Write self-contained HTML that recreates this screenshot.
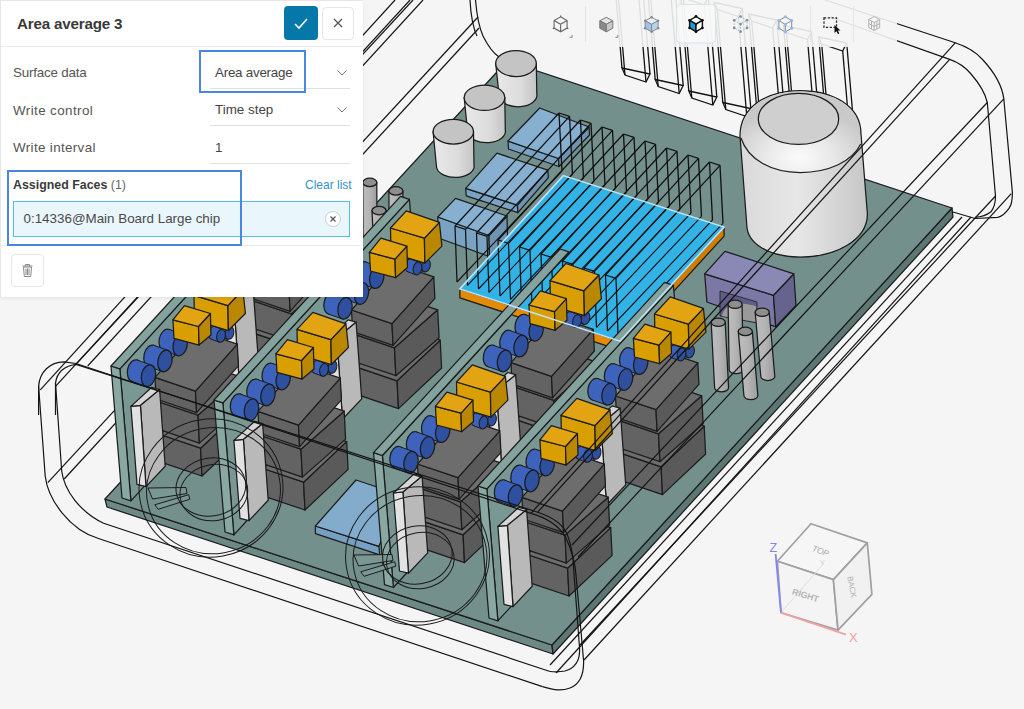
<!DOCTYPE html>
<html><head><meta charset="utf-8">
<style>
*{box-sizing:border-box;margin:0;padding:0}
html,body{width:1024px;height:709px;overflow:hidden;background:#f5f5f5;font-family:"Liberation Sans",sans-serif}
#scene{position:absolute;left:0;top:0;width:1024px;height:709px}
#panel{position:absolute;left:0;top:0;width:363px;height:296.5px;background:#fff;border-left:1px solid #e6e6e6;border-top:1px solid #e6e6e6;box-shadow:0 1.5px 3px rgba(0,0,0,0.07)}
.title{position:absolute;left:16px;top:13.5px;font-size:15.2px;font-weight:bold;color:#3a3a3a;letter-spacing:-0.2px}
.btn-ok{position:absolute;left:283px;top:5px;width:34px;height:34px;background:#0677a9;border-radius:4px}
.btn-x{position:absolute;left:321px;top:6px;width:32px;height:33px;background:#fff;border:1px solid #e6e6e6;border-radius:4px}
.hsep{position:absolute;left:0;top:45px;width:362px;height:1px;background:#ececec}
.lbl{position:absolute;left:12px;font-size:13.4px;color:#555}
.val{position:absolute;left:214px;font-size:13.4px;color:#444}
.uline{position:absolute;left:209px;width:140px;height:1px;background:#e0e0e0}
.chev{position:absolute;left:336px;width:10px;height:6px}
.hl{position:absolute;border:2px solid #4a86de}
.af{position:absolute;left:12px;top:177px;font-size:12.4px;font-weight:bold;color:#3a3a3a}
.af span{font-weight:normal;color:#666}
.clear{position:absolute;left:304px;top:177px;font-size:12px;color:#3591c8}
.item{position:absolute;left:12px;top:200px;width:337px;height:36px;background:#e9f6fc;border:1px solid #57bde3}
.item .t{position:absolute;left:9.5px;top:9px;font-size:13.4px;color:#4a4a4a}
.xc{position:absolute;left:324px;top:210px;width:16px;height:16px;border-radius:50%;background:#fff;border:1px solid #d0d0d0}
.bsep{position:absolute;left:0;top:244px;width:362px;height:1px;background:#ececec}
.trash{position:absolute;left:10px;top:253px;width:33px;height:33px;border:1px solid #e6e6e6;border-radius:4px;background:#fff}
#tb{position:absolute;left:538px;top:0;width:359px;height:47px;background:rgba(245,245,245,0.9)}
.ic{position:absolute;top:14px;width:20px;height:20px}

</style></head><body>
<svg id="scene" width="1024" height="709" viewBox="0 0 1024 709"><defs>
<linearGradient id="capg" x1="0" x2="1" y1="0" y2="0"><stop offset="0" stop-color="#e9e9e9"/><stop offset="0.6" stop-color="#dcdcdc"/><stop offset="1" stop-color="#c4c4c4"/></linearGradient>
<linearGradient id="bigcyl" x1="0" x2="1" y1="0" y2="0"><stop offset="0" stop-color="#d9d9d9"/><stop offset="0.45" stop-color="#e7e7e7"/><stop offset="1" stop-color="#c6c6c6"/></linearGradient>
<radialGradient id="dome" cx="0.48" cy="0.82" r="0.62"><stop offset="0" stop-color="#fbfbfb"/><stop offset="0.45" stop-color="#e9e9e9"/><stop offset="1" stop-color="#c9c9c9"/></radialGradient>
<linearGradient id="ping" x1="0" x2="1" y1="0" y2="0"><stop offset="0" stop-color="#bdbdbd"/><stop offset="0.5" stop-color="#b4b4b4"/><stop offset="1" stop-color="#9c9c9c"/></linearGradient>
</defs><path d="M38.6,386 L45.2,476 C48,500 70,530 98.5,538.5 L542.5,686.6" fill="none" stroke="#141414" stroke-width="1.2"/>
<path d="M55.5,383 L61.7,471 C64,490 80,512 103.6,523.3 L550,671.5" fill="none" stroke="#141414" stroke-width="1.2"/>
<path d="M550,665 L962,217" fill="none" stroke="#141414" stroke-width="1.2"/>
<path d="M556,673 L971,217" fill="none" stroke="#141414" stroke-width="1.2"/>
<path d="M580,645 L995.5,196" fill="none" stroke="#141414" stroke-width="1.2"/>
<path d="M584,660 L1011.3,193.7" fill="none" stroke="#141414" stroke-width="1.2"/>
<path d="M47.8,482.7 L478,17" fill="none" stroke="#141414" stroke-width="1.2"/>
<path d="M64.2,479 L479,28" fill="none" stroke="#141414" stroke-width="1.2"/>
<path d="M475.5,0 C477,18 479,27 483,36 C488,46 493,53 499,57" fill="none" stroke="#141414" stroke-width="1.2"/>
<path d="M470,0 C471,18 473,28 477,36" fill="none" stroke="#141414" stroke-width="1.2"/>
<line x1="622.0" y1="68.0" x2="613.5" y2="-32.0" stroke="#111" stroke-width="1.3" />
<line x1="650.0" y1="74.0" x2="641.5" y2="-26.0" stroke="#111" stroke-width="1.3" />
<line x1="646.0" y1="82.0" x2="637.5" y2="-18.0" stroke="#111" stroke-width="1.3" />
<line x1="625.0" y1="75.0" x2="616.5" y2="-25.0" stroke="#111" stroke-width="1.3" />
<polygon points="622.0,68.0 650.0,74.0 646.0,82.0 625.0,75.0" fill="none" stroke="#111" stroke-width="1.3"/>
<polygon points="613.5,-32.0 641.5,-26.0 637.5,-18.0 616.5,-25.0" fill="none" stroke="#111" stroke-width="1.3"/>
<line x1="655.2" y1="79.5" x2="646.7" y2="-20.5" stroke="#111" stroke-width="1.3" />
<line x1="683.2" y1="85.5" x2="674.7" y2="-14.5" stroke="#111" stroke-width="1.3" />
<line x1="679.2" y1="93.5" x2="670.7" y2="-6.5" stroke="#111" stroke-width="1.3" />
<line x1="658.2" y1="86.5" x2="649.7" y2="-13.5" stroke="#111" stroke-width="1.3" />
<polygon points="655.2,79.5 683.2,85.5 679.2,93.5 658.2,86.5" fill="none" stroke="#111" stroke-width="1.3"/>
<polygon points="646.7,-20.5 674.7,-14.5 670.7,-6.5 649.7,-13.5" fill="none" stroke="#111" stroke-width="1.3"/>
<line x1="688.8" y1="91.0" x2="680.3" y2="-9.0" stroke="#111" stroke-width="1.3" />
<line x1="716.8" y1="97.0" x2="708.3" y2="-3.0" stroke="#111" stroke-width="1.3" />
<line x1="712.8" y1="105.0" x2="704.3" y2="5.0" stroke="#111" stroke-width="1.3" />
<line x1="691.8" y1="98.0" x2="683.3" y2="-2.0" stroke="#111" stroke-width="1.3" />
<polygon points="688.8,91.0 716.8,97.0 712.8,105.0 691.8,98.0" fill="none" stroke="#111" stroke-width="1.3"/>
<polygon points="680.3,-9.0 708.3,-3.0 704.3,5.0 683.3,-2.0" fill="none" stroke="#111" stroke-width="1.3"/>
<line x1="722.8" y1="102.5" x2="714.3" y2="2.5" stroke="#111" stroke-width="1.3" />
<line x1="750.8" y1="108.5" x2="742.3" y2="8.5" stroke="#111" stroke-width="1.3" />
<line x1="746.8" y1="116.5" x2="738.3" y2="16.5" stroke="#111" stroke-width="1.3" />
<line x1="725.8" y1="109.5" x2="717.3" y2="9.5" stroke="#111" stroke-width="1.3" />
<polygon points="722.8,102.5 750.8,108.5 746.8,116.5 725.8,109.5" fill="none" stroke="#111" stroke-width="1.3"/>
<polygon points="714.3,2.5 742.3,8.5 738.3,16.5 717.3,9.5" fill="none" stroke="#111" stroke-width="1.3"/>
<line x1="757.2" y1="114.0" x2="748.7" y2="14.0" stroke="#111" stroke-width="1.3" />
<line x1="785.2" y1="120.0" x2="776.7" y2="20.0" stroke="#111" stroke-width="1.3" />
<line x1="781.2" y1="128.0" x2="772.7" y2="28.0" stroke="#111" stroke-width="1.3" />
<line x1="760.2" y1="121.0" x2="751.7" y2="21.0" stroke="#111" stroke-width="1.3" />
<polygon points="757.2,114.0 785.2,120.0 781.2,128.0 760.2,121.0" fill="none" stroke="#111" stroke-width="1.3"/>
<polygon points="748.7,14.0 776.7,20.0 772.7,28.0 751.7,21.0" fill="none" stroke="#111" stroke-width="1.3"/>
<line x1="792.0" y1="125.5" x2="783.5" y2="25.5" stroke="#111" stroke-width="1.3" />
<line x1="820.0" y1="131.5" x2="811.5" y2="31.5" stroke="#111" stroke-width="1.3" />
<line x1="816.0" y1="139.5" x2="807.5" y2="39.5" stroke="#111" stroke-width="1.3" />
<line x1="795.0" y1="132.5" x2="786.5" y2="32.5" stroke="#111" stroke-width="1.3" />
<polygon points="792.0,125.5 820.0,131.5 816.0,139.5 795.0,132.5" fill="none" stroke="#111" stroke-width="1.3"/>
<polygon points="783.5,25.5 811.5,31.5 807.5,39.5 786.5,32.5" fill="none" stroke="#111" stroke-width="1.3"/>
<line x1="827.2" y1="137.0" x2="818.7" y2="37.0" stroke="#111" stroke-width="1.3" />
<line x1="855.2" y1="143.0" x2="846.7" y2="43.0" stroke="#111" stroke-width="1.3" />
<line x1="851.2" y1="151.0" x2="842.7" y2="51.0" stroke="#111" stroke-width="1.3" />
<line x1="830.2" y1="144.0" x2="821.7" y2="44.0" stroke="#111" stroke-width="1.3" />
<polygon points="827.2,137.0 855.2,143.0 851.2,151.0 830.2,144.0" fill="none" stroke="#111" stroke-width="1.3"/>
<polygon points="818.7,37.0 846.7,43.0 842.7,51.0 821.7,44.0" fill="none" stroke="#111" stroke-width="1.3"/>
<polygon points="105.0,499.0 552.0,645.0 553.0,654.0 107.0,507.0" fill="#6c8986" stroke="#1c1c1c" stroke-width="1.25" stroke-linejoin="round" />
<polygon points="552.0,645.0 952.0,208.0 953.0,217.0 553.0,654.0" fill="#5d7775" stroke="#1c1c1c" stroke-width="1.25" stroke-linejoin="round" />
<polygon points="507.0,61.0 952.0,208.0 552.0,645.0 105.0,499.0" fill="#73908c" stroke="#1c1c1c" stroke-width="1.25" stroke-linejoin="round" />
<path d="M495.7,63.5 L499.2,96.5 A18.8,11.7 0 0 0 536.8,93.5 L536.3,63.5 Z" fill="url(#capg)" stroke="#1c1c1c" stroke-width="1.25"/>
<ellipse cx="516.0" cy="63.5" rx="20.3" ry="13.0" fill="#c4c4c4" stroke="#1c1c1c" stroke-width="1.25"/>
<path d="M464.2,97.7 L467.7,132.7 A18.8,11.4 0 0 0 505.3,129.7 L504.8,97.7 Z" fill="url(#capg)" stroke="#1c1c1c" stroke-width="1.25"/>
<ellipse cx="484.5" cy="97.7" rx="20.3" ry="12.7" fill="#c4c4c4" stroke="#1c1c1c" stroke-width="1.25"/>
<path d="M433.1,131.7 L436.6,167.7 A18.7,11.1 0 0 0 474.0,164.7 L473.5,131.7 Z" fill="url(#capg)" stroke="#1c1c1c" stroke-width="1.25"/>
<ellipse cx="453.3" cy="131.7" rx="20.2" ry="12.3" fill="#c4c4c4" stroke="#1c1c1c" stroke-width="1.25"/>
<polygon points="508.0,141.0 558.5,158.5 559.0,166.5 508.5,149.0" fill="#7aa2c3" stroke="#1c1c1c" stroke-width="1.25" stroke-linejoin="round" />
<polygon points="558.5,158.5 589.0,127.0 589.5,135.0 559.0,166.5" fill="#6f94b3" stroke="#1c1c1c" stroke-width="1.25" stroke-linejoin="round" />
<polygon points="508.0,141.0 539.7,108.0 589.0,127.0 558.5,158.5" fill="#86afd0" stroke="#1c1c1c" stroke-width="1.25" stroke-linejoin="round" />
<polygon points="465.7,188.3 517.4,205.2 517.9,212.7 466.2,195.8" fill="#7aa2c3" stroke="#1c1c1c" stroke-width="1.25" stroke-linejoin="round" />
<polygon points="517.4,205.2 547.8,170.1 548.3,177.6 517.9,212.7" fill="#6f94b3" stroke="#1c1c1c" stroke-width="1.25" stroke-linejoin="round" />
<polygon points="465.7,188.3 497.0,153.2 547.8,170.1 517.4,205.2" fill="#86afd0" stroke="#1c1c1c" stroke-width="1.25" stroke-linejoin="round" />
<polygon points="437.8,217.0 489.0,235.5 489.5,256.5 438.3,238.0" fill="#7aa2c3" stroke="#1c1c1c" stroke-width="1.25" stroke-linejoin="round" />
<polygon points="489.0,235.5 507.0,216.0 507.5,237.0 489.5,256.5" fill="#6f94b3" stroke="#1c1c1c" stroke-width="1.25" stroke-linejoin="round" />
<polygon points="437.8,217.0 455.6,198.4 507.0,216.0 489.0,235.5" fill="#86afd0" stroke="#1c1c1c" stroke-width="1.25" stroke-linejoin="round" />
<path d="M740,136 C740,106 768,90.5 800,90.5 C833,90.5 861,106 861,134 L867.4,214 C867.4,240 836,257 800.4,257 C768,257 747,243 746.8,225 Z" fill="url(#bigcyl)" stroke="#1c1c1c" stroke-width="1.25"/>
<path d="M741,138 C741,106 768,91.5 800,91.5 C833,91.5 860,106 860,134 L860.7,144 C852,162 828,172.5 800.4,172.5 C772,172.5 748,160 741,138 Z" fill="url(#dome)" stroke="none"/>
<path d="M741,138 C748,160 772,172.5 800.4,172.5 C828,172.5 852,162 860.7,144" fill="none" stroke="#222" stroke-width="1.25"/>
<ellipse cx="798.5" cy="118.9" rx="40.2" ry="25.5" fill="#cfcfcf" stroke="#1c1c1c" stroke-width="1.25"/>
<polygon points="704.7,273.8 773.5,295.3 775.7,326.8 706.9,302.0" fill="#7b78a6" stroke="#1c1c1c" stroke-width="1.25" stroke-linejoin="round" />
<polygon points="773.5,295.3 793.8,273.8 796.0,305.4 775.7,326.8" fill="#66648e" stroke="#1c1c1c" stroke-width="1.25" stroke-linejoin="round" />
<polygon points="704.7,273.8 725.0,251.3 793.8,273.8 773.5,295.3" fill="#8a88b4" stroke="#1c1c1c" stroke-width="1.25" stroke-linejoin="round" />
<path d="M720,316 L720,291 L757,302 L757,323 Z" fill="#5f5d88" stroke="#1c1c1c" stroke-width="0.8"/>
<path d="M722,316 C724,305 735,300 756,306 L756,322 Z" fill="#9a9a9a" stroke="none"/>
<path d="M728.1,304.3 L729.2,369.7 A7,4 0 0 0 743.2,369.7 L742.1,304.3 Z" fill="url(#ping)" stroke="#1c1c1c" stroke-width="1.25"/>
<ellipse cx="735.1" cy="304.3" rx="7" ry="4.2" fill="#8e8e8e" stroke="#1c1c1c" stroke-width="1.25"/>
<path d="M755.2,312.2 L760.8,376.5 A7,4 0 0 0 774.8,376.5 L769.2,312.2 Z" fill="url(#ping)" stroke="#1c1c1c" stroke-width="1.25"/>
<ellipse cx="762.2" cy="312.2" rx="7" ry="4.2" fill="#8e8e8e" stroke="#1c1c1c" stroke-width="1.25"/>
<path d="M711.2,322.3 L714.6,387.8 A7,4 0 0 0 728.6,387.8 L725.2,322.3 Z" fill="url(#ping)" stroke="#1c1c1c" stroke-width="1.25"/>
<ellipse cx="718.2" cy="322.3" rx="7" ry="4.2" fill="#8e8e8e" stroke="#1c1c1c" stroke-width="1.25"/>
<path d="M738.3,331.4 L743.9,395.6 A7,4 0 0 0 757.9,395.6 L752.3,331.4 Z" fill="url(#ping)" stroke="#1c1c1c" stroke-width="1.25"/>
<ellipse cx="745.3" cy="331.4" rx="7" ry="4.2" fill="#8e8e8e" stroke="#1c1c1c" stroke-width="1.25"/>
<path d="M348.0,175.0 L348.0,230.0 A7,4 0 0 0 362.0,230.0 L362.0,175.0 Z" fill="url(#ping)" stroke="#1c1c1c" stroke-width="1.25"/>
<ellipse cx="355.0" cy="175.0" rx="7" ry="4.2" fill="#8e8e8e" stroke="#1c1c1c" stroke-width="1.25"/>
<path d="M362.8,182.4 L363.0,236.0 A7,4 0 0 0 377.0,236.0 L376.8,182.4 Z" fill="url(#ping)" stroke="#1c1c1c" stroke-width="1.25"/>
<ellipse cx="369.8" cy="182.4" rx="7" ry="4.2" fill="#8e8e8e" stroke="#1c1c1c" stroke-width="1.25"/>
<path d="M388.9,190.9 L389.0,225.0 A7,4 0 0 0 403.0,225.0 L402.9,190.9 Z" fill="url(#ping)" stroke="#1c1c1c" stroke-width="1.25"/>
<ellipse cx="395.9" cy="190.9" rx="7" ry="4.2" fill="#8e8e8e" stroke="#1c1c1c" stroke-width="1.25"/>
<path d="M372.0,210.6 L373.0,232.0 A7,4 0 0 0 387.0,232.0 L386.0,210.6 Z" fill="url(#ping)" stroke="#1c1c1c" stroke-width="1.25"/>
<ellipse cx="379.0" cy="210.6" rx="7" ry="4.2" fill="#8e8e8e" stroke="#1c1c1c" stroke-width="1.25"/>
<polygon points="315.4,526.0 378.9,546.3 379.7,554.8 315.4,533.6" fill="#76a0c2" stroke="#1c1c1c" stroke-width="1.25" stroke-linejoin="round" />
<polygon points="315.4,526.0 356.0,480.0 401.0,495.0 378.9,546.3" fill="#82abcc" stroke="#1c1c1c" stroke-width="1.25" stroke-linejoin="round" />
<polygon points="119.9,368.9 306.4,165.3 317.4,297.3 130.9,500.9" fill="#7a9893" stroke="#1c1c1c" stroke-width="1.25" stroke-linejoin="round" />
<polygon points="111.0,366.0 119.9,368.9 130.9,500.9 122.0,498.0" fill="#8aa8a2" stroke="#1c1c1c" stroke-width="1.25" stroke-linejoin="round" />
<polygon points="111.0,366.0 297.5,162.4 306.4,165.3 119.9,368.9" fill="#85a39e" stroke="#1c1c1c" stroke-width="1.25" stroke-linejoin="round" />
<polygon points="253.6,333.1 294.1,346.8 295.5,374.6 255.0,360.9" fill="#636363" stroke="#1c1c1c" stroke-width="1.25" stroke-linejoin="round" />
<polygon points="294.1,346.8 337.2,306.2 338.6,334.0 295.5,374.6" fill="#5a5a5a" stroke="#1c1c1c" stroke-width="1.25" stroke-linejoin="round" />
<polygon points="253.6,333.1 296.7,292.5 337.2,306.2 294.1,346.8" fill="#6d6d6d" stroke="#1c1c1c" stroke-width="1.25" stroke-linejoin="round" />
<polygon points="251.0,300.1 291.5,313.8 292.9,341.7 252.4,328.0" fill="#636363" stroke="#1c1c1c" stroke-width="1.25" stroke-linejoin="round" />
<polygon points="291.5,313.8 334.7,275.8 336.1,303.7 292.9,341.7" fill="#5a5a5a" stroke="#1c1c1c" stroke-width="1.25" stroke-linejoin="round" />
<polygon points="251.0,300.1 294.2,262.1 334.7,275.8 291.5,313.8" fill="#6d6d6d" stroke="#1c1c1c" stroke-width="1.25" stroke-linejoin="round" />
<polygon points="248.5,276.0 289.0,289.7 290.1,311.3 249.6,297.6" fill="#636363" stroke="#1c1c1c" stroke-width="1.25" stroke-linejoin="round" />
<polygon points="289.0,289.7 330.8,242.8 331.9,264.4 290.1,311.3" fill="#5a5a5a" stroke="#1c1c1c" stroke-width="1.25" stroke-linejoin="round" />
<polygon points="248.5,276.0 290.3,229.1 330.8,242.8 289.0,289.7" fill="#6d6d6d" stroke="#1c1c1c" stroke-width="1.25" stroke-linejoin="round" />
<polygon points="233.9,303.9 253.1,288.1 258.7,364.9 239.5,385.2" fill="#b9b9b9" stroke="#1c1c1c" stroke-width="1.25" stroke-linejoin="round" />
<polygon points="224.4,305.0 233.9,303.9 239.5,385.2 230.5,383.0" fill="#e2e2e2" stroke="#1c1c1c" stroke-width="1.25" stroke-linejoin="round" />
<polygon points="224.4,305.0 245.2,285.9 253.1,288.1 233.9,303.9" fill="#d6d6d6" stroke="#1c1c1c" stroke-width="1.25" stroke-linejoin="round" />
<ellipse cx="315.0" cy="228.5" rx="4.3" ry="6.5" fill="#3d63bd" stroke="#1c1c1c" stroke-width="1" transform="rotate(12 315.0 228.5)"/>
<polygon points="316.4,222.1 324.4,225.1 321.6,237.9 313.6,234.9" fill="#3d63bd" stroke="none"/>
<line x1="316.4" y1="222.1" x2="324.4" y2="225.1" stroke="#1c1c1c" stroke-width="1" />
<line x1="313.6" y1="234.9" x2="321.6" y2="237.9" stroke="#1c1c1c" stroke-width="1" />
<ellipse cx="323.0" cy="231.5" rx="4.3" ry="6.5" fill="#2f4f9f" stroke="#1c1c1c" stroke-width="1" transform="rotate(12 323.0 231.5)"/>
<ellipse cx="306.5" cy="231.5" rx="4.3" ry="6.5" fill="#3d63bd" stroke="#1c1c1c" stroke-width="1" transform="rotate(12 306.5 231.5)"/>
<polygon points="307.9,225.1 315.9,228.1 313.1,240.9 305.1,237.9" fill="#3d63bd" stroke="none"/>
<line x1="307.9" y1="225.1" x2="315.9" y2="228.1" stroke="#1c1c1c" stroke-width="1" />
<line x1="305.1" y1="237.9" x2="313.1" y2="240.9" stroke="#1c1c1c" stroke-width="1" />
<ellipse cx="314.5" cy="234.5" rx="4.3" ry="6.5" fill="#2f4f9f" stroke="#1c1c1c" stroke-width="1" transform="rotate(12 314.5 234.5)"/>
<ellipse cx="259.7" cy="238.6" rx="7.0" ry="11.0" fill="#3d63bd" stroke="#1c1c1c" stroke-width="1.25" transform="rotate(12 259.7 238.6)"/>
<polygon points="262.0,227.8 276.0,232.8 271.4,254.4 257.4,249.4" fill="#3d63bd" stroke="none"/>
<line x1="262.0" y1="227.8" x2="276.0" y2="232.8" stroke="#1c1c1c" stroke-width="1" />
<line x1="257.4" y1="249.4" x2="271.4" y2="254.4" stroke="#1c1c1c" stroke-width="1" />
<ellipse cx="273.7" cy="243.6" rx="7.0" ry="11.0" fill="#2f4f9f" stroke="#1c1c1c" stroke-width="1.25" transform="rotate(12 273.7 243.6)"/>
<ellipse cx="244.5" cy="254.5" rx="7.0" ry="11.0" fill="#3d63bd" stroke="#1c1c1c" stroke-width="1.25" transform="rotate(12 244.5 254.5)"/>
<polygon points="246.8,243.7 260.8,248.7 256.2,270.3 242.2,265.3" fill="#3d63bd" stroke="none"/>
<line x1="246.8" y1="243.7" x2="260.8" y2="248.7" stroke="#1c1c1c" stroke-width="1" />
<line x1="242.2" y1="265.3" x2="256.2" y2="270.3" stroke="#1c1c1c" stroke-width="1" />
<ellipse cx="258.5" cy="259.5" rx="7.0" ry="11.0" fill="#2f4f9f" stroke="#1c1c1c" stroke-width="1.25" transform="rotate(12 258.5 259.5)"/>
<ellipse cx="228.0" cy="269.3" rx="7.0" ry="11.0" fill="#3d63bd" stroke="#1c1c1c" stroke-width="1.25" transform="rotate(12 228.0 269.3)"/>
<polygon points="230.3,258.5 244.3,263.5 239.7,285.1 225.7,280.1" fill="#3d63bd" stroke="none"/>
<line x1="230.3" y1="258.5" x2="244.3" y2="263.5" stroke="#1c1c1c" stroke-width="1" />
<line x1="225.7" y1="280.1" x2="239.7" y2="285.1" stroke="#1c1c1c" stroke-width="1" />
<ellipse cx="242.0" cy="274.3" rx="7.0" ry="11.0" fill="#2f4f9f" stroke="#1c1c1c" stroke-width="1.25" transform="rotate(12 242.0 274.3)"/>
<polygon points="287.5,194.0 321.4,204.2 321.9,229.1 288.0,219.0" fill="#d99e00" stroke="#1c1c1c" stroke-width="1.25" stroke-linejoin="round" />
<polygon points="321.4,204.2 336.4,188.4 338.9,212.1 321.9,229.1" fill="#b98700" stroke="#1c1c1c" stroke-width="1.25" stroke-linejoin="round" />
<polygon points="287.5,194.0 303.3,176.9 336.4,188.4 321.4,204.2" fill="#e3a414" stroke="#1c1c1c" stroke-width="1.25" stroke-linejoin="round" />
<polygon points="266.4,218.4 292.0,225.1 292.6,243.7 267.5,237.0" fill="#d99e00" stroke="#1c1c1c" stroke-width="1.25" stroke-linejoin="round" />
<polygon points="292.0,225.1 303.9,212.1 304.5,233.6 292.6,243.7" fill="#b98700" stroke="#1c1c1c" stroke-width="1.25" stroke-linejoin="round" />
<polygon points="266.4,218.4 277.9,204.2 303.9,212.1 292.0,225.1" fill="#e3a414" stroke="#1c1c1c" stroke-width="1.25" stroke-linejoin="round" />
<polygon points="160.1,434.5 200.6,448.2 202.0,476.0 161.5,462.3" fill="#636363" stroke="#1c1c1c" stroke-width="1.25" stroke-linejoin="round" />
<polygon points="200.6,448.2 243.7,407.6 245.1,435.4 202.0,476.0" fill="#5a5a5a" stroke="#1c1c1c" stroke-width="1.25" stroke-linejoin="round" />
<polygon points="160.1,434.5 203.2,393.9 243.7,407.6 200.6,448.2" fill="#6d6d6d" stroke="#1c1c1c" stroke-width="1.25" stroke-linejoin="round" />
<polygon points="157.5,401.5 198.0,415.2 199.4,443.1 158.9,429.4" fill="#636363" stroke="#1c1c1c" stroke-width="1.25" stroke-linejoin="round" />
<polygon points="198.0,415.2 241.2,377.2 242.6,405.1 199.4,443.1" fill="#5a5a5a" stroke="#1c1c1c" stroke-width="1.25" stroke-linejoin="round" />
<polygon points="157.5,401.5 200.7,363.5 241.2,377.2 198.0,415.2" fill="#6d6d6d" stroke="#1c1c1c" stroke-width="1.25" stroke-linejoin="round" />
<polygon points="155.0,377.4 195.5,391.1 196.6,412.7 156.1,399.0" fill="#636363" stroke="#1c1c1c" stroke-width="1.25" stroke-linejoin="round" />
<polygon points="195.5,391.1 237.3,344.2 238.4,365.8 196.6,412.7" fill="#5a5a5a" stroke="#1c1c1c" stroke-width="1.25" stroke-linejoin="round" />
<polygon points="155.0,377.4 196.8,330.5 237.3,344.2 195.5,391.1" fill="#6d6d6d" stroke="#1c1c1c" stroke-width="1.25" stroke-linejoin="round" />
<polygon points="140.4,405.3 159.6,389.5 165.2,466.3 146.0,486.6" fill="#b9b9b9" stroke="#1c1c1c" stroke-width="1.25" stroke-linejoin="round" />
<polygon points="130.9,406.4 140.4,405.3 146.0,486.6 137.0,484.4" fill="#e2e2e2" stroke="#1c1c1c" stroke-width="1.25" stroke-linejoin="round" />
<polygon points="130.9,406.4 151.7,387.3 159.6,389.5 140.4,405.3" fill="#d6d6d6" stroke="#1c1c1c" stroke-width="1.25" stroke-linejoin="round" />
<ellipse cx="221.5" cy="329.9" rx="4.3" ry="6.5" fill="#3d63bd" stroke="#1c1c1c" stroke-width="1" transform="rotate(12 221.5 329.9)"/>
<polygon points="222.9,323.5 230.9,326.5 228.1,339.3 220.1,336.3" fill="#3d63bd" stroke="none"/>
<line x1="222.9" y1="323.5" x2="230.9" y2="326.5" stroke="#1c1c1c" stroke-width="1" />
<line x1="220.1" y1="336.3" x2="228.1" y2="339.3" stroke="#1c1c1c" stroke-width="1" />
<ellipse cx="229.5" cy="332.9" rx="4.3" ry="6.5" fill="#2f4f9f" stroke="#1c1c1c" stroke-width="1" transform="rotate(12 229.5 332.9)"/>
<ellipse cx="213.0" cy="332.9" rx="4.3" ry="6.5" fill="#3d63bd" stroke="#1c1c1c" stroke-width="1" transform="rotate(12 213.0 332.9)"/>
<polygon points="214.4,326.5 222.4,329.5 219.6,342.3 211.6,339.3" fill="#3d63bd" stroke="none"/>
<line x1="214.4" y1="326.5" x2="222.4" y2="329.5" stroke="#1c1c1c" stroke-width="1" />
<line x1="211.6" y1="339.3" x2="219.6" y2="342.3" stroke="#1c1c1c" stroke-width="1" />
<ellipse cx="221.0" cy="335.9" rx="4.3" ry="6.5" fill="#2f4f9f" stroke="#1c1c1c" stroke-width="1" transform="rotate(12 221.0 335.9)"/>
<ellipse cx="166.2" cy="340.0" rx="7.0" ry="11.0" fill="#3d63bd" stroke="#1c1c1c" stroke-width="1.25" transform="rotate(12 166.2 340.0)"/>
<polygon points="168.5,329.2 182.5,334.2 177.9,355.8 163.9,350.8" fill="#3d63bd" stroke="none"/>
<line x1="168.5" y1="329.2" x2="182.5" y2="334.2" stroke="#1c1c1c" stroke-width="1" />
<line x1="163.9" y1="350.8" x2="177.9" y2="355.8" stroke="#1c1c1c" stroke-width="1" />
<ellipse cx="180.2" cy="345.0" rx="7.0" ry="11.0" fill="#2f4f9f" stroke="#1c1c1c" stroke-width="1.25" transform="rotate(12 180.2 345.0)"/>
<ellipse cx="151.0" cy="355.9" rx="7.0" ry="11.0" fill="#3d63bd" stroke="#1c1c1c" stroke-width="1.25" transform="rotate(12 151.0 355.9)"/>
<polygon points="153.3,345.1 167.3,350.1 162.7,371.7 148.7,366.7" fill="#3d63bd" stroke="none"/>
<line x1="153.3" y1="345.1" x2="167.3" y2="350.1" stroke="#1c1c1c" stroke-width="1" />
<line x1="148.7" y1="366.7" x2="162.7" y2="371.7" stroke="#1c1c1c" stroke-width="1" />
<ellipse cx="165.0" cy="360.9" rx="7.0" ry="11.0" fill="#2f4f9f" stroke="#1c1c1c" stroke-width="1.25" transform="rotate(12 165.0 360.9)"/>
<ellipse cx="134.5" cy="370.7" rx="7.0" ry="11.0" fill="#3d63bd" stroke="#1c1c1c" stroke-width="1.25" transform="rotate(12 134.5 370.7)"/>
<polygon points="136.8,359.9 150.8,364.9 146.2,386.5 132.2,381.5" fill="#3d63bd" stroke="none"/>
<line x1="136.8" y1="359.9" x2="150.8" y2="364.9" stroke="#1c1c1c" stroke-width="1" />
<line x1="132.2" y1="381.5" x2="146.2" y2="386.5" stroke="#1c1c1c" stroke-width="1" />
<ellipse cx="148.5" cy="375.7" rx="7.0" ry="11.0" fill="#2f4f9f" stroke="#1c1c1c" stroke-width="1.25" transform="rotate(12 148.5 375.7)"/>
<polygon points="194.0,295.4 227.9,305.6 228.4,330.5 194.5,320.4" fill="#d99e00" stroke="#1c1c1c" stroke-width="1.25" stroke-linejoin="round" />
<polygon points="227.9,305.6 242.9,289.8 245.4,313.5 228.4,330.5" fill="#b98700" stroke="#1c1c1c" stroke-width="1.25" stroke-linejoin="round" />
<polygon points="194.0,295.4 209.8,278.3 242.9,289.8 227.9,305.6" fill="#e3a414" stroke="#1c1c1c" stroke-width="1.25" stroke-linejoin="round" />
<polygon points="172.9,319.8 198.5,326.5 199.1,345.1 174.0,338.4" fill="#d99e00" stroke="#1c1c1c" stroke-width="1.25" stroke-linejoin="round" />
<polygon points="198.5,326.5 210.4,313.5 211.0,335.0 199.1,345.1" fill="#b98700" stroke="#1c1c1c" stroke-width="1.25" stroke-linejoin="round" />
<polygon points="172.9,319.8 184.4,305.6 210.4,313.5 198.5,326.5" fill="#e3a414" stroke="#1c1c1c" stroke-width="1.25" stroke-linejoin="round" />
<polygon points="222.9,402.9 409.4,199.3 420.4,331.3 233.9,534.9" fill="#7a9893" stroke="#1c1c1c" stroke-width="1.25" stroke-linejoin="round" />
<polygon points="214.0,400.0 222.9,402.9 233.9,534.9 225.0,532.0" fill="#8aa8a2" stroke="#1c1c1c" stroke-width="1.25" stroke-linejoin="round" />
<polygon points="214.0,400.0 400.5,196.4 409.4,199.3 222.9,402.9" fill="#85a39e" stroke="#1c1c1c" stroke-width="1.25" stroke-linejoin="round" />
<polygon points="356.6,367.1 397.1,380.8 398.5,408.6 358.0,394.9" fill="#636363" stroke="#1c1c1c" stroke-width="1.25" stroke-linejoin="round" />
<polygon points="397.1,380.8 440.2,340.2 441.6,368.0 398.5,408.6" fill="#5a5a5a" stroke="#1c1c1c" stroke-width="1.25" stroke-linejoin="round" />
<polygon points="356.6,367.1 399.7,326.5 440.2,340.2 397.1,380.8" fill="#6d6d6d" stroke="#1c1c1c" stroke-width="1.25" stroke-linejoin="round" />
<polygon points="354.0,334.1 394.5,347.8 395.9,375.7 355.4,362.0" fill="#636363" stroke="#1c1c1c" stroke-width="1.25" stroke-linejoin="round" />
<polygon points="394.5,347.8 437.7,309.8 439.1,337.7 395.9,375.7" fill="#5a5a5a" stroke="#1c1c1c" stroke-width="1.25" stroke-linejoin="round" />
<polygon points="354.0,334.1 397.2,296.1 437.7,309.8 394.5,347.8" fill="#6d6d6d" stroke="#1c1c1c" stroke-width="1.25" stroke-linejoin="round" />
<polygon points="351.5,310.0 392.0,323.7 393.1,345.3 352.6,331.6" fill="#636363" stroke="#1c1c1c" stroke-width="1.25" stroke-linejoin="round" />
<polygon points="392.0,323.7 433.8,276.8 434.9,298.4 393.1,345.3" fill="#5a5a5a" stroke="#1c1c1c" stroke-width="1.25" stroke-linejoin="round" />
<polygon points="351.5,310.0 393.3,263.1 433.8,276.8 392.0,323.7" fill="#6d6d6d" stroke="#1c1c1c" stroke-width="1.25" stroke-linejoin="round" />
<polygon points="336.9,337.9 356.1,322.1 361.7,398.9 342.5,419.2" fill="#b9b9b9" stroke="#1c1c1c" stroke-width="1.25" stroke-linejoin="round" />
<polygon points="327.4,339.0 336.9,337.9 342.5,419.2 333.5,417.0" fill="#e2e2e2" stroke="#1c1c1c" stroke-width="1.25" stroke-linejoin="round" />
<polygon points="327.4,339.0 348.2,319.9 356.1,322.1 336.9,337.9" fill="#d6d6d6" stroke="#1c1c1c" stroke-width="1.25" stroke-linejoin="round" />
<ellipse cx="418.0" cy="262.5" rx="4.3" ry="6.5" fill="#3d63bd" stroke="#1c1c1c" stroke-width="1" transform="rotate(12 418.0 262.5)"/>
<polygon points="419.4,256.1 427.4,259.1 424.6,271.9 416.6,268.9" fill="#3d63bd" stroke="none"/>
<line x1="419.4" y1="256.1" x2="427.4" y2="259.1" stroke="#1c1c1c" stroke-width="1" />
<line x1="416.6" y1="268.9" x2="424.6" y2="271.9" stroke="#1c1c1c" stroke-width="1" />
<ellipse cx="426.0" cy="265.5" rx="4.3" ry="6.5" fill="#2f4f9f" stroke="#1c1c1c" stroke-width="1" transform="rotate(12 426.0 265.5)"/>
<ellipse cx="409.5" cy="265.5" rx="4.3" ry="6.5" fill="#3d63bd" stroke="#1c1c1c" stroke-width="1" transform="rotate(12 409.5 265.5)"/>
<polygon points="410.9,259.1 418.9,262.1 416.1,274.9 408.1,271.9" fill="#3d63bd" stroke="none"/>
<line x1="410.9" y1="259.1" x2="418.9" y2="262.1" stroke="#1c1c1c" stroke-width="1" />
<line x1="408.1" y1="271.9" x2="416.1" y2="274.9" stroke="#1c1c1c" stroke-width="1" />
<ellipse cx="417.5" cy="268.5" rx="4.3" ry="6.5" fill="#2f4f9f" stroke="#1c1c1c" stroke-width="1" transform="rotate(12 417.5 268.5)"/>
<ellipse cx="362.7" cy="272.6" rx="7.0" ry="11.0" fill="#3d63bd" stroke="#1c1c1c" stroke-width="1.25" transform="rotate(12 362.7 272.6)"/>
<polygon points="365.0,261.8 379.0,266.8 374.4,288.4 360.4,283.4" fill="#3d63bd" stroke="none"/>
<line x1="365.0" y1="261.8" x2="379.0" y2="266.8" stroke="#1c1c1c" stroke-width="1" />
<line x1="360.4" y1="283.4" x2="374.4" y2="288.4" stroke="#1c1c1c" stroke-width="1" />
<ellipse cx="376.7" cy="277.6" rx="7.0" ry="11.0" fill="#2f4f9f" stroke="#1c1c1c" stroke-width="1.25" transform="rotate(12 376.7 277.6)"/>
<ellipse cx="347.5" cy="288.5" rx="7.0" ry="11.0" fill="#3d63bd" stroke="#1c1c1c" stroke-width="1.25" transform="rotate(12 347.5 288.5)"/>
<polygon points="349.8,277.7 363.8,282.7 359.2,304.3 345.2,299.3" fill="#3d63bd" stroke="none"/>
<line x1="349.8" y1="277.7" x2="363.8" y2="282.7" stroke="#1c1c1c" stroke-width="1" />
<line x1="345.2" y1="299.3" x2="359.2" y2="304.3" stroke="#1c1c1c" stroke-width="1" />
<ellipse cx="361.5" cy="293.5" rx="7.0" ry="11.0" fill="#2f4f9f" stroke="#1c1c1c" stroke-width="1.25" transform="rotate(12 361.5 293.5)"/>
<ellipse cx="331.0" cy="303.3" rx="7.0" ry="11.0" fill="#3d63bd" stroke="#1c1c1c" stroke-width="1.25" transform="rotate(12 331.0 303.3)"/>
<polygon points="333.3,292.5 347.3,297.5 342.7,319.1 328.7,314.1" fill="#3d63bd" stroke="none"/>
<line x1="333.3" y1="292.5" x2="347.3" y2="297.5" stroke="#1c1c1c" stroke-width="1" />
<line x1="328.7" y1="314.1" x2="342.7" y2="319.1" stroke="#1c1c1c" stroke-width="1" />
<ellipse cx="345.0" cy="308.3" rx="7.0" ry="11.0" fill="#2f4f9f" stroke="#1c1c1c" stroke-width="1.25" transform="rotate(12 345.0 308.3)"/>
<polygon points="390.5,228.0 424.4,238.2 424.9,263.1 391.0,253.0" fill="#d99e00" stroke="#1c1c1c" stroke-width="1.25" stroke-linejoin="round" />
<polygon points="424.4,238.2 439.4,222.4 441.9,246.1 424.9,263.1" fill="#b98700" stroke="#1c1c1c" stroke-width="1.25" stroke-linejoin="round" />
<polygon points="390.5,228.0 406.3,210.9 439.4,222.4 424.4,238.2" fill="#e3a414" stroke="#1c1c1c" stroke-width="1.25" stroke-linejoin="round" />
<polygon points="369.4,252.4 395.0,259.1 395.6,277.7 370.5,271.0" fill="#d99e00" stroke="#1c1c1c" stroke-width="1.25" stroke-linejoin="round" />
<polygon points="395.0,259.1 406.9,246.1 407.5,267.6 395.6,277.7" fill="#b98700" stroke="#1c1c1c" stroke-width="1.25" stroke-linejoin="round" />
<polygon points="369.4,252.4 380.9,238.2 406.9,246.1 395.0,259.1" fill="#e3a414" stroke="#1c1c1c" stroke-width="1.25" stroke-linejoin="round" />
<polygon points="263.1,468.5 303.6,482.2 305.0,510.0 264.5,496.3" fill="#636363" stroke="#1c1c1c" stroke-width="1.25" stroke-linejoin="round" />
<polygon points="303.6,482.2 346.7,441.6 348.1,469.4 305.0,510.0" fill="#5a5a5a" stroke="#1c1c1c" stroke-width="1.25" stroke-linejoin="round" />
<polygon points="263.1,468.5 306.2,427.9 346.7,441.6 303.6,482.2" fill="#6d6d6d" stroke="#1c1c1c" stroke-width="1.25" stroke-linejoin="round" />
<polygon points="260.5,435.5 301.0,449.2 302.4,477.1 261.9,463.4" fill="#636363" stroke="#1c1c1c" stroke-width="1.25" stroke-linejoin="round" />
<polygon points="301.0,449.2 344.2,411.2 345.6,439.1 302.4,477.1" fill="#5a5a5a" stroke="#1c1c1c" stroke-width="1.25" stroke-linejoin="round" />
<polygon points="260.5,435.5 303.7,397.5 344.2,411.2 301.0,449.2" fill="#6d6d6d" stroke="#1c1c1c" stroke-width="1.25" stroke-linejoin="round" />
<polygon points="258.0,411.4 298.5,425.1 299.6,446.7 259.1,433.0" fill="#636363" stroke="#1c1c1c" stroke-width="1.25" stroke-linejoin="round" />
<polygon points="298.5,425.1 340.3,378.2 341.4,399.8 299.6,446.7" fill="#5a5a5a" stroke="#1c1c1c" stroke-width="1.25" stroke-linejoin="round" />
<polygon points="258.0,411.4 299.8,364.5 340.3,378.2 298.5,425.1" fill="#6d6d6d" stroke="#1c1c1c" stroke-width="1.25" stroke-linejoin="round" />
<polygon points="243.4,439.3 262.6,423.5 268.2,500.3 249.0,520.6" fill="#b9b9b9" stroke="#1c1c1c" stroke-width="1.25" stroke-linejoin="round" />
<polygon points="233.9,440.4 243.4,439.3 249.0,520.6 240.0,518.4" fill="#e2e2e2" stroke="#1c1c1c" stroke-width="1.25" stroke-linejoin="round" />
<polygon points="233.9,440.4 254.7,421.3 262.6,423.5 243.4,439.3" fill="#d6d6d6" stroke="#1c1c1c" stroke-width="1.25" stroke-linejoin="round" />
<ellipse cx="324.5" cy="363.9" rx="4.3" ry="6.5" fill="#3d63bd" stroke="#1c1c1c" stroke-width="1" transform="rotate(12 324.5 363.9)"/>
<polygon points="325.9,357.5 333.9,360.5 331.1,373.3 323.1,370.3" fill="#3d63bd" stroke="none"/>
<line x1="325.9" y1="357.5" x2="333.9" y2="360.5" stroke="#1c1c1c" stroke-width="1" />
<line x1="323.1" y1="370.3" x2="331.1" y2="373.3" stroke="#1c1c1c" stroke-width="1" />
<ellipse cx="332.5" cy="366.9" rx="4.3" ry="6.5" fill="#2f4f9f" stroke="#1c1c1c" stroke-width="1" transform="rotate(12 332.5 366.9)"/>
<ellipse cx="316.0" cy="366.9" rx="4.3" ry="6.5" fill="#3d63bd" stroke="#1c1c1c" stroke-width="1" transform="rotate(12 316.0 366.9)"/>
<polygon points="317.4,360.5 325.4,363.5 322.6,376.3 314.6,373.3" fill="#3d63bd" stroke="none"/>
<line x1="317.4" y1="360.5" x2="325.4" y2="363.5" stroke="#1c1c1c" stroke-width="1" />
<line x1="314.6" y1="373.3" x2="322.6" y2="376.3" stroke="#1c1c1c" stroke-width="1" />
<ellipse cx="324.0" cy="369.9" rx="4.3" ry="6.5" fill="#2f4f9f" stroke="#1c1c1c" stroke-width="1" transform="rotate(12 324.0 369.9)"/>
<ellipse cx="269.2" cy="374.0" rx="7.0" ry="11.0" fill="#3d63bd" stroke="#1c1c1c" stroke-width="1.25" transform="rotate(12 269.2 374.0)"/>
<polygon points="271.5,363.2 285.5,368.2 280.9,389.8 266.9,384.8" fill="#3d63bd" stroke="none"/>
<line x1="271.5" y1="363.2" x2="285.5" y2="368.2" stroke="#1c1c1c" stroke-width="1" />
<line x1="266.9" y1="384.8" x2="280.9" y2="389.8" stroke="#1c1c1c" stroke-width="1" />
<ellipse cx="283.2" cy="379.0" rx="7.0" ry="11.0" fill="#2f4f9f" stroke="#1c1c1c" stroke-width="1.25" transform="rotate(12 283.2 379.0)"/>
<ellipse cx="254.0" cy="389.9" rx="7.0" ry="11.0" fill="#3d63bd" stroke="#1c1c1c" stroke-width="1.25" transform="rotate(12 254.0 389.9)"/>
<polygon points="256.3,379.1 270.3,384.1 265.7,405.7 251.7,400.7" fill="#3d63bd" stroke="none"/>
<line x1="256.3" y1="379.1" x2="270.3" y2="384.1" stroke="#1c1c1c" stroke-width="1" />
<line x1="251.7" y1="400.7" x2="265.7" y2="405.7" stroke="#1c1c1c" stroke-width="1" />
<ellipse cx="268.0" cy="394.9" rx="7.0" ry="11.0" fill="#2f4f9f" stroke="#1c1c1c" stroke-width="1.25" transform="rotate(12 268.0 394.9)"/>
<ellipse cx="237.5" cy="404.7" rx="7.0" ry="11.0" fill="#3d63bd" stroke="#1c1c1c" stroke-width="1.25" transform="rotate(12 237.5 404.7)"/>
<polygon points="239.8,393.9 253.8,398.9 249.2,420.5 235.2,415.5" fill="#3d63bd" stroke="none"/>
<line x1="239.8" y1="393.9" x2="253.8" y2="398.9" stroke="#1c1c1c" stroke-width="1" />
<line x1="235.2" y1="415.5" x2="249.2" y2="420.5" stroke="#1c1c1c" stroke-width="1" />
<ellipse cx="251.5" cy="409.7" rx="7.0" ry="11.0" fill="#2f4f9f" stroke="#1c1c1c" stroke-width="1.25" transform="rotate(12 251.5 409.7)"/>
<polygon points="297.0,329.4 330.9,339.6 331.4,364.5 297.5,354.4" fill="#d99e00" stroke="#1c1c1c" stroke-width="1.25" stroke-linejoin="round" />
<polygon points="330.9,339.6 345.9,323.8 348.4,347.5 331.4,364.5" fill="#b98700" stroke="#1c1c1c" stroke-width="1.25" stroke-linejoin="round" />
<polygon points="297.0,329.4 312.8,312.3 345.9,323.8 330.9,339.6" fill="#e3a414" stroke="#1c1c1c" stroke-width="1.25" stroke-linejoin="round" />
<polygon points="275.9,353.8 301.5,360.5 302.1,379.1 277.0,372.4" fill="#d99e00" stroke="#1c1c1c" stroke-width="1.25" stroke-linejoin="round" />
<polygon points="301.5,360.5 313.4,347.5 314.0,369.0 302.1,379.1" fill="#b98700" stroke="#1c1c1c" stroke-width="1.25" stroke-linejoin="round" />
<polygon points="275.9,353.8 287.4,339.6 313.4,347.5 301.5,360.5" fill="#e3a414" stroke="#1c1c1c" stroke-width="1.25" stroke-linejoin="round" />
<polygon points="382.4,455.5 568.9,251.9 579.9,383.9 393.4,587.5" fill="#7a9893" stroke="#1c1c1c" stroke-width="1.25" stroke-linejoin="round" />
<polygon points="373.5,452.6 382.4,455.5 393.4,587.5 384.5,584.6" fill="#8aa8a2" stroke="#1c1c1c" stroke-width="1.25" stroke-linejoin="round" />
<polygon points="459.9,288.9 619.9,341.2 619.9,350.2 459.9,297.9" fill="#e38a06" stroke="#1c1c1c" stroke-width="1.25" stroke-linejoin="round" />
<polygon points="619.9,341.2 724.1,227.1 724.1,236.1 619.9,350.2" fill="#d07c00" stroke="#1c1c1c" stroke-width="1.25" stroke-linejoin="round" />
<polygon points="459.9,288.9 563.3,175.6 724.1,227.1 619.9,341.2" fill="#33b2e6" stroke="none" stroke-width="0" stroke-linejoin="round" />
<line x1="455.0" y1="226.0" x2="559.0" y2="113.0" stroke="#111" stroke-width="1.25" />
<line x1="559.0" y1="113.0" x2="562.0" y2="171.0" stroke="#111" stroke-width="1.3" />
<line x1="455.0" y1="226.0" x2="457.0" y2="282.0" stroke="#111" stroke-width="1.25" />
<line x1="457.0" y1="282.0" x2="562.0" y2="171.0" stroke="#111" stroke-width="1.1" />
<line x1="465.5" y1="229.4" x2="569.5" y2="116.4" stroke="#111" stroke-width="1.25" />
<line x1="569.5" y1="116.4" x2="572.5" y2="174.4" stroke="#111" stroke-width="1.3" />
<line x1="465.5" y1="229.4" x2="467.5" y2="285.4" stroke="#111" stroke-width="1.25" />
<line x1="467.5" y1="285.4" x2="572.5" y2="174.4" stroke="#111" stroke-width="1.1" />
<line x1="559.0" y1="113.0" x2="569.5" y2="116.4" stroke="#111" stroke-width="1.25" />
<line x1="455.0" y1="226.0" x2="465.5" y2="229.4" stroke="#111" stroke-width="1.25" />
<line x1="476.5" y1="233.0" x2="580.5" y2="120.0" stroke="#111" stroke-width="1.25" />
<line x1="580.5" y1="120.0" x2="583.5" y2="178.0" stroke="#111" stroke-width="1.3" />
<line x1="476.5" y1="233.0" x2="478.5" y2="289.0" stroke="#111" stroke-width="1.25" />
<line x1="478.5" y1="289.0" x2="583.5" y2="178.0" stroke="#111" stroke-width="1.1" />
<line x1="487.0" y1="236.4" x2="591.0" y2="123.4" stroke="#111" stroke-width="1.25" />
<line x1="591.0" y1="123.4" x2="594.0" y2="181.4" stroke="#111" stroke-width="1.3" />
<line x1="487.0" y1="236.4" x2="489.0" y2="292.4" stroke="#111" stroke-width="1.25" />
<line x1="489.0" y1="292.4" x2="594.0" y2="181.4" stroke="#111" stroke-width="1.1" />
<line x1="580.5" y1="120.0" x2="591.0" y2="123.4" stroke="#111" stroke-width="1.25" />
<line x1="476.5" y1="233.0" x2="487.0" y2="236.4" stroke="#111" stroke-width="1.25" />
<line x1="498.0" y1="240.0" x2="602.0" y2="127.0" stroke="#111" stroke-width="1.25" />
<line x1="602.0" y1="127.0" x2="605.0" y2="185.0" stroke="#111" stroke-width="1.3" />
<line x1="498.0" y1="240.0" x2="500.0" y2="296.0" stroke="#111" stroke-width="1.25" />
<line x1="500.0" y1="296.0" x2="605.0" y2="185.0" stroke="#111" stroke-width="1.1" />
<line x1="508.5" y1="243.4" x2="612.5" y2="130.4" stroke="#111" stroke-width="1.25" />
<line x1="612.5" y1="130.4" x2="615.5" y2="188.4" stroke="#111" stroke-width="1.3" />
<line x1="508.5" y1="243.4" x2="510.5" y2="299.4" stroke="#111" stroke-width="1.25" />
<line x1="510.5" y1="299.4" x2="615.5" y2="188.4" stroke="#111" stroke-width="1.1" />
<line x1="602.0" y1="127.0" x2="612.5" y2="130.4" stroke="#111" stroke-width="1.25" />
<line x1="498.0" y1="240.0" x2="508.5" y2="243.4" stroke="#111" stroke-width="1.25" />
<line x1="519.5" y1="247.0" x2="623.5" y2="134.0" stroke="#111" stroke-width="1.25" />
<line x1="623.5" y1="134.0" x2="626.5" y2="192.0" stroke="#111" stroke-width="1.3" />
<line x1="519.5" y1="247.0" x2="521.5" y2="303.0" stroke="#111" stroke-width="1.25" />
<line x1="521.5" y1="303.0" x2="626.5" y2="192.0" stroke="#111" stroke-width="1.1" />
<line x1="530.0" y1="250.4" x2="634.0" y2="137.4" stroke="#111" stroke-width="1.25" />
<line x1="634.0" y1="137.4" x2="637.0" y2="195.4" stroke="#111" stroke-width="1.3" />
<line x1="530.0" y1="250.4" x2="532.0" y2="306.4" stroke="#111" stroke-width="1.25" />
<line x1="532.0" y1="306.4" x2="637.0" y2="195.4" stroke="#111" stroke-width="1.1" />
<line x1="623.5" y1="134.0" x2="634.0" y2="137.4" stroke="#111" stroke-width="1.25" />
<line x1="519.5" y1="247.0" x2="530.0" y2="250.4" stroke="#111" stroke-width="1.25" />
<line x1="541.0" y1="254.0" x2="645.0" y2="141.0" stroke="#111" stroke-width="1.25" />
<line x1="645.0" y1="141.0" x2="648.0" y2="199.0" stroke="#111" stroke-width="1.3" />
<line x1="541.0" y1="254.0" x2="543.0" y2="310.0" stroke="#111" stroke-width="1.25" />
<line x1="543.0" y1="310.0" x2="648.0" y2="199.0" stroke="#111" stroke-width="1.1" />
<line x1="551.5" y1="257.4" x2="655.5" y2="144.4" stroke="#111" stroke-width="1.25" />
<line x1="655.5" y1="144.4" x2="658.5" y2="202.4" stroke="#111" stroke-width="1.3" />
<line x1="551.5" y1="257.4" x2="553.5" y2="313.4" stroke="#111" stroke-width="1.25" />
<line x1="553.5" y1="313.4" x2="658.5" y2="202.4" stroke="#111" stroke-width="1.1" />
<line x1="645.0" y1="141.0" x2="655.5" y2="144.4" stroke="#111" stroke-width="1.25" />
<line x1="541.0" y1="254.0" x2="551.5" y2="257.4" stroke="#111" stroke-width="1.25" />
<line x1="562.5" y1="261.0" x2="666.5" y2="148.0" stroke="#111" stroke-width="1.25" />
<line x1="666.5" y1="148.0" x2="669.5" y2="206.0" stroke="#111" stroke-width="1.3" />
<line x1="562.5" y1="261.0" x2="564.5" y2="317.0" stroke="#111" stroke-width="1.25" />
<line x1="564.5" y1="317.0" x2="669.5" y2="206.0" stroke="#111" stroke-width="1.1" />
<line x1="573.0" y1="264.4" x2="677.0" y2="151.4" stroke="#111" stroke-width="1.25" />
<line x1="677.0" y1="151.4" x2="680.0" y2="209.4" stroke="#111" stroke-width="1.3" />
<line x1="573.0" y1="264.4" x2="575.0" y2="320.4" stroke="#111" stroke-width="1.25" />
<line x1="575.0" y1="320.4" x2="680.0" y2="209.4" stroke="#111" stroke-width="1.1" />
<line x1="666.5" y1="148.0" x2="677.0" y2="151.4" stroke="#111" stroke-width="1.25" />
<line x1="562.5" y1="261.0" x2="573.0" y2="264.4" stroke="#111" stroke-width="1.25" />
<line x1="584.0" y1="268.0" x2="688.0" y2="155.0" stroke="#111" stroke-width="1.25" />
<line x1="688.0" y1="155.0" x2="691.0" y2="213.0" stroke="#111" stroke-width="1.3" />
<line x1="584.0" y1="268.0" x2="586.0" y2="324.0" stroke="#111" stroke-width="1.25" />
<line x1="586.0" y1="324.0" x2="691.0" y2="213.0" stroke="#111" stroke-width="1.1" />
<line x1="594.5" y1="271.4" x2="698.5" y2="158.4" stroke="#111" stroke-width="1.25" />
<line x1="698.5" y1="158.4" x2="701.5" y2="216.4" stroke="#111" stroke-width="1.3" />
<line x1="594.5" y1="271.4" x2="596.5" y2="327.4" stroke="#111" stroke-width="1.25" />
<line x1="596.5" y1="327.4" x2="701.5" y2="216.4" stroke="#111" stroke-width="1.1" />
<line x1="688.0" y1="155.0" x2="698.5" y2="158.4" stroke="#111" stroke-width="1.25" />
<line x1="584.0" y1="268.0" x2="594.5" y2="271.4" stroke="#111" stroke-width="1.25" />
<line x1="605.5" y1="275.0" x2="709.5" y2="162.0" stroke="#111" stroke-width="1.25" />
<line x1="709.5" y1="162.0" x2="712.5" y2="220.0" stroke="#111" stroke-width="1.3" />
<line x1="605.5" y1="275.0" x2="607.5" y2="331.0" stroke="#111" stroke-width="1.25" />
<line x1="607.5" y1="331.0" x2="712.5" y2="220.0" stroke="#111" stroke-width="1.1" />
<line x1="616.0" y1="278.4" x2="720.0" y2="165.4" stroke="#111" stroke-width="1.25" />
<line x1="720.0" y1="165.4" x2="723.0" y2="223.4" stroke="#111" stroke-width="1.3" />
<line x1="616.0" y1="278.4" x2="618.0" y2="334.4" stroke="#111" stroke-width="1.25" />
<line x1="618.0" y1="334.4" x2="723.0" y2="223.4" stroke="#111" stroke-width="1.1" />
<line x1="709.5" y1="162.0" x2="720.0" y2="165.4" stroke="#111" stroke-width="1.25" />
<line x1="605.5" y1="275.0" x2="616.0" y2="278.4" stroke="#111" stroke-width="1.25" />
<polygon points="373.5,452.6 560.0,249.0 568.9,251.9 382.4,455.5" fill="#85a39e" stroke="#1c1c1c" stroke-width="1.25" stroke-linejoin="round" />
<polygon points="516.1,419.7 556.6,433.4 558.0,461.2 517.5,447.5" fill="#636363" stroke="#1c1c1c" stroke-width="1.25" stroke-linejoin="round" />
<polygon points="556.6,433.4 599.7,392.8 601.1,420.6 558.0,461.2" fill="#5a5a5a" stroke="#1c1c1c" stroke-width="1.25" stroke-linejoin="round" />
<polygon points="516.1,419.7 559.2,379.1 599.7,392.8 556.6,433.4" fill="#6d6d6d" stroke="#1c1c1c" stroke-width="1.25" stroke-linejoin="round" />
<polygon points="513.5,386.7 554.0,400.4 555.4,428.3 514.9,414.6" fill="#636363" stroke="#1c1c1c" stroke-width="1.25" stroke-linejoin="round" />
<polygon points="554.0,400.4 597.2,362.4 598.6,390.3 555.4,428.3" fill="#5a5a5a" stroke="#1c1c1c" stroke-width="1.25" stroke-linejoin="round" />
<polygon points="513.5,386.7 556.7,348.7 597.2,362.4 554.0,400.4" fill="#6d6d6d" stroke="#1c1c1c" stroke-width="1.25" stroke-linejoin="round" />
<polygon points="511.0,362.6 551.5,376.3 552.6,397.9 512.1,384.2" fill="#636363" stroke="#1c1c1c" stroke-width="1.25" stroke-linejoin="round" />
<polygon points="551.5,376.3 593.3,329.4 594.4,351.0 552.6,397.9" fill="#5a5a5a" stroke="#1c1c1c" stroke-width="1.25" stroke-linejoin="round" />
<polygon points="511.0,362.6 552.8,315.7 593.3,329.4 551.5,376.3" fill="#6d6d6d" stroke="#1c1c1c" stroke-width="1.25" stroke-linejoin="round" />
<polygon points="496.4,390.5 515.6,374.7 521.2,451.5 502.0,471.8" fill="#b9b9b9" stroke="#1c1c1c" stroke-width="1.25" stroke-linejoin="round" />
<polygon points="486.9,391.6 496.4,390.5 502.0,471.8 493.0,469.6" fill="#e2e2e2" stroke="#1c1c1c" stroke-width="1.25" stroke-linejoin="round" />
<polygon points="486.9,391.6 507.7,372.5 515.6,374.7 496.4,390.5" fill="#d6d6d6" stroke="#1c1c1c" stroke-width="1.25" stroke-linejoin="round" />
<ellipse cx="577.5" cy="315.1" rx="4.3" ry="6.5" fill="#3d63bd" stroke="#1c1c1c" stroke-width="1" transform="rotate(12 577.5 315.1)"/>
<polygon points="578.9,308.7 586.9,311.7 584.1,324.5 576.1,321.5" fill="#3d63bd" stroke="none"/>
<line x1="578.9" y1="308.7" x2="586.9" y2="311.7" stroke="#1c1c1c" stroke-width="1" />
<line x1="576.1" y1="321.5" x2="584.1" y2="324.5" stroke="#1c1c1c" stroke-width="1" />
<ellipse cx="585.5" cy="318.1" rx="4.3" ry="6.5" fill="#2f4f9f" stroke="#1c1c1c" stroke-width="1" transform="rotate(12 585.5 318.1)"/>
<ellipse cx="569.0" cy="318.1" rx="4.3" ry="6.5" fill="#3d63bd" stroke="#1c1c1c" stroke-width="1" transform="rotate(12 569.0 318.1)"/>
<polygon points="570.4,311.7 578.4,314.7 575.6,327.5 567.6,324.5" fill="#3d63bd" stroke="none"/>
<line x1="570.4" y1="311.7" x2="578.4" y2="314.7" stroke="#1c1c1c" stroke-width="1" />
<line x1="567.6" y1="324.5" x2="575.6" y2="327.5" stroke="#1c1c1c" stroke-width="1" />
<ellipse cx="577.0" cy="321.1" rx="4.3" ry="6.5" fill="#2f4f9f" stroke="#1c1c1c" stroke-width="1" transform="rotate(12 577.0 321.1)"/>
<ellipse cx="522.2" cy="325.2" rx="7.0" ry="11.0" fill="#3d63bd" stroke="#1c1c1c" stroke-width="1.25" transform="rotate(12 522.2 325.2)"/>
<polygon points="524.5,314.4 538.5,319.4 533.9,341.0 519.9,336.0" fill="#3d63bd" stroke="none"/>
<line x1="524.5" y1="314.4" x2="538.5" y2="319.4" stroke="#1c1c1c" stroke-width="1" />
<line x1="519.9" y1="336.0" x2="533.9" y2="341.0" stroke="#1c1c1c" stroke-width="1" />
<ellipse cx="536.2" cy="330.2" rx="7.0" ry="11.0" fill="#2f4f9f" stroke="#1c1c1c" stroke-width="1.25" transform="rotate(12 536.2 330.2)"/>
<ellipse cx="507.0" cy="341.1" rx="7.0" ry="11.0" fill="#3d63bd" stroke="#1c1c1c" stroke-width="1.25" transform="rotate(12 507.0 341.1)"/>
<polygon points="509.3,330.3 523.3,335.3 518.7,356.9 504.7,351.9" fill="#3d63bd" stroke="none"/>
<line x1="509.3" y1="330.3" x2="523.3" y2="335.3" stroke="#1c1c1c" stroke-width="1" />
<line x1="504.7" y1="351.9" x2="518.7" y2="356.9" stroke="#1c1c1c" stroke-width="1" />
<ellipse cx="521.0" cy="346.1" rx="7.0" ry="11.0" fill="#2f4f9f" stroke="#1c1c1c" stroke-width="1.25" transform="rotate(12 521.0 346.1)"/>
<ellipse cx="490.5" cy="355.9" rx="7.0" ry="11.0" fill="#3d63bd" stroke="#1c1c1c" stroke-width="1.25" transform="rotate(12 490.5 355.9)"/>
<polygon points="492.8,345.1 506.8,350.1 502.2,371.7 488.2,366.7" fill="#3d63bd" stroke="none"/>
<line x1="492.8" y1="345.1" x2="506.8" y2="350.1" stroke="#1c1c1c" stroke-width="1" />
<line x1="488.2" y1="366.7" x2="502.2" y2="371.7" stroke="#1c1c1c" stroke-width="1" />
<ellipse cx="504.5" cy="360.9" rx="7.0" ry="11.0" fill="#2f4f9f" stroke="#1c1c1c" stroke-width="1.25" transform="rotate(12 504.5 360.9)"/>
<polygon points="550.0,280.6 583.9,290.8 584.4,315.7 550.5,305.6" fill="#d99e00" stroke="#1c1c1c" stroke-width="1.25" stroke-linejoin="round" />
<polygon points="583.9,290.8 598.9,275.0 601.4,298.7 584.4,315.7" fill="#b98700" stroke="#1c1c1c" stroke-width="1.25" stroke-linejoin="round" />
<polygon points="550.0,280.6 565.8,263.5 598.9,275.0 583.9,290.8" fill="#e3a414" stroke="#1c1c1c" stroke-width="1.25" stroke-linejoin="round" />
<polygon points="528.9,305.0 554.5,311.7 555.1,330.3 530.0,323.6" fill="#d99e00" stroke="#1c1c1c" stroke-width="1.25" stroke-linejoin="round" />
<polygon points="554.5,311.7 566.4,298.7 567.0,320.2 555.1,330.3" fill="#b98700" stroke="#1c1c1c" stroke-width="1.25" stroke-linejoin="round" />
<polygon points="528.9,305.0 540.4,290.8 566.4,298.7 554.5,311.7" fill="#e3a414" stroke="#1c1c1c" stroke-width="1.25" stroke-linejoin="round" />
<polygon points="422.6,521.1 463.1,534.8 464.5,562.6 424.0,548.9" fill="#636363" stroke="#1c1c1c" stroke-width="1.25" stroke-linejoin="round" />
<polygon points="463.1,534.8 506.2,494.2 507.6,522.0 464.5,562.6" fill="#5a5a5a" stroke="#1c1c1c" stroke-width="1.25" stroke-linejoin="round" />
<polygon points="422.6,521.1 465.7,480.5 506.2,494.2 463.1,534.8" fill="#6d6d6d" stroke="#1c1c1c" stroke-width="1.25" stroke-linejoin="round" />
<polygon points="420.0,488.1 460.5,501.8 461.9,529.7 421.4,516.0" fill="#636363" stroke="#1c1c1c" stroke-width="1.25" stroke-linejoin="round" />
<polygon points="460.5,501.8 503.7,463.8 505.1,491.7 461.9,529.7" fill="#5a5a5a" stroke="#1c1c1c" stroke-width="1.25" stroke-linejoin="round" />
<polygon points="420.0,488.1 463.2,450.1 503.7,463.8 460.5,501.8" fill="#6d6d6d" stroke="#1c1c1c" stroke-width="1.25" stroke-linejoin="round" />
<polygon points="417.5,464.0 458.0,477.7 459.1,499.3 418.6,485.6" fill="#636363" stroke="#1c1c1c" stroke-width="1.25" stroke-linejoin="round" />
<polygon points="458.0,477.7 499.8,430.8 500.9,452.4 459.1,499.3" fill="#5a5a5a" stroke="#1c1c1c" stroke-width="1.25" stroke-linejoin="round" />
<polygon points="417.5,464.0 459.3,417.1 499.8,430.8 458.0,477.7" fill="#6d6d6d" stroke="#1c1c1c" stroke-width="1.25" stroke-linejoin="round" />
<polygon points="402.9,491.9 422.1,476.1 427.7,552.9 408.5,573.2" fill="#b9b9b9" stroke="#1c1c1c" stroke-width="1.25" stroke-linejoin="round" />
<polygon points="393.4,493.0 402.9,491.9 408.5,573.2 399.5,571.0" fill="#e2e2e2" stroke="#1c1c1c" stroke-width="1.25" stroke-linejoin="round" />
<polygon points="393.4,493.0 414.2,473.9 422.1,476.1 402.9,491.9" fill="#d6d6d6" stroke="#1c1c1c" stroke-width="1.25" stroke-linejoin="round" />
<ellipse cx="484.0" cy="416.5" rx="4.3" ry="6.5" fill="#3d63bd" stroke="#1c1c1c" stroke-width="1" transform="rotate(12 484.0 416.5)"/>
<polygon points="485.4,410.1 493.4,413.1 490.6,425.9 482.6,422.9" fill="#3d63bd" stroke="none"/>
<line x1="485.4" y1="410.1" x2="493.4" y2="413.1" stroke="#1c1c1c" stroke-width="1" />
<line x1="482.6" y1="422.9" x2="490.6" y2="425.9" stroke="#1c1c1c" stroke-width="1" />
<ellipse cx="492.0" cy="419.5" rx="4.3" ry="6.5" fill="#2f4f9f" stroke="#1c1c1c" stroke-width="1" transform="rotate(12 492.0 419.5)"/>
<ellipse cx="475.5" cy="419.5" rx="4.3" ry="6.5" fill="#3d63bd" stroke="#1c1c1c" stroke-width="1" transform="rotate(12 475.5 419.5)"/>
<polygon points="476.9,413.1 484.9,416.1 482.1,428.9 474.1,425.9" fill="#3d63bd" stroke="none"/>
<line x1="476.9" y1="413.1" x2="484.9" y2="416.1" stroke="#1c1c1c" stroke-width="1" />
<line x1="474.1" y1="425.9" x2="482.1" y2="428.9" stroke="#1c1c1c" stroke-width="1" />
<ellipse cx="483.5" cy="422.5" rx="4.3" ry="6.5" fill="#2f4f9f" stroke="#1c1c1c" stroke-width="1" transform="rotate(12 483.5 422.5)"/>
<ellipse cx="428.7" cy="426.6" rx="7.0" ry="11.0" fill="#3d63bd" stroke="#1c1c1c" stroke-width="1.25" transform="rotate(12 428.7 426.6)"/>
<polygon points="431.0,415.8 445.0,420.8 440.4,442.4 426.4,437.4" fill="#3d63bd" stroke="none"/>
<line x1="431.0" y1="415.8" x2="445.0" y2="420.8" stroke="#1c1c1c" stroke-width="1" />
<line x1="426.4" y1="437.4" x2="440.4" y2="442.4" stroke="#1c1c1c" stroke-width="1" />
<ellipse cx="442.7" cy="431.6" rx="7.0" ry="11.0" fill="#2f4f9f" stroke="#1c1c1c" stroke-width="1.25" transform="rotate(12 442.7 431.6)"/>
<ellipse cx="413.5" cy="442.5" rx="7.0" ry="11.0" fill="#3d63bd" stroke="#1c1c1c" stroke-width="1.25" transform="rotate(12 413.5 442.5)"/>
<polygon points="415.8,431.7 429.8,436.7 425.2,458.3 411.2,453.3" fill="#3d63bd" stroke="none"/>
<line x1="415.8" y1="431.7" x2="429.8" y2="436.7" stroke="#1c1c1c" stroke-width="1" />
<line x1="411.2" y1="453.3" x2="425.2" y2="458.3" stroke="#1c1c1c" stroke-width="1" />
<ellipse cx="427.5" cy="447.5" rx="7.0" ry="11.0" fill="#2f4f9f" stroke="#1c1c1c" stroke-width="1.25" transform="rotate(12 427.5 447.5)"/>
<ellipse cx="397.0" cy="457.3" rx="7.0" ry="11.0" fill="#3d63bd" stroke="#1c1c1c" stroke-width="1.25" transform="rotate(12 397.0 457.3)"/>
<polygon points="399.3,446.5 413.3,451.5 408.7,473.1 394.7,468.1" fill="#3d63bd" stroke="none"/>
<line x1="399.3" y1="446.5" x2="413.3" y2="451.5" stroke="#1c1c1c" stroke-width="1" />
<line x1="394.7" y1="468.1" x2="408.7" y2="473.1" stroke="#1c1c1c" stroke-width="1" />
<ellipse cx="411.0" cy="462.3" rx="7.0" ry="11.0" fill="#2f4f9f" stroke="#1c1c1c" stroke-width="1.25" transform="rotate(12 411.0 462.3)"/>
<polygon points="456.5,382.0 490.4,392.2 490.9,417.1 457.0,407.0" fill="#d99e00" stroke="#1c1c1c" stroke-width="1.25" stroke-linejoin="round" />
<polygon points="490.4,392.2 505.4,376.4 507.9,400.1 490.9,417.1" fill="#b98700" stroke="#1c1c1c" stroke-width="1.25" stroke-linejoin="round" />
<polygon points="456.5,382.0 472.3,364.9 505.4,376.4 490.4,392.2" fill="#e3a414" stroke="#1c1c1c" stroke-width="1.25" stroke-linejoin="round" />
<polygon points="435.4,406.4 461.0,413.1 461.6,431.7 436.5,425.0" fill="#d99e00" stroke="#1c1c1c" stroke-width="1.25" stroke-linejoin="round" />
<polygon points="461.0,413.1 472.9,400.1 473.5,421.6 461.6,431.7" fill="#b98700" stroke="#1c1c1c" stroke-width="1.25" stroke-linejoin="round" />
<polygon points="435.4,406.4 446.9,392.2 472.9,400.1 461.0,413.1" fill="#e3a414" stroke="#1c1c1c" stroke-width="1.25" stroke-linejoin="round" />
<polygon points="486.9,488.9 673.4,285.3 684.4,417.3 497.9,620.9" fill="#7a9893" stroke="#1c1c1c" stroke-width="1.25" stroke-linejoin="round" />
<polygon points="478.0,486.0 486.9,488.9 497.9,620.9 489.0,618.0" fill="#8aa8a2" stroke="#1c1c1c" stroke-width="1.25" stroke-linejoin="round" />
<polygon points="478.0,486.0 664.5,282.4 673.4,285.3 486.9,488.9" fill="#85a39e" stroke="#1c1c1c" stroke-width="1.25" stroke-linejoin="round" />
<polygon points="620.6,453.1 661.1,466.8 662.5,494.6 622.0,480.9" fill="#636363" stroke="#1c1c1c" stroke-width="1.25" stroke-linejoin="round" />
<polygon points="661.1,466.8 704.2,426.2 705.6,454.0 662.5,494.6" fill="#5a5a5a" stroke="#1c1c1c" stroke-width="1.25" stroke-linejoin="round" />
<polygon points="620.6,453.1 663.7,412.5 704.2,426.2 661.1,466.8" fill="#6d6d6d" stroke="#1c1c1c" stroke-width="1.25" stroke-linejoin="round" />
<polygon points="618.0,420.1 658.5,433.8 659.9,461.7 619.4,448.0" fill="#636363" stroke="#1c1c1c" stroke-width="1.25" stroke-linejoin="round" />
<polygon points="658.5,433.8 701.7,395.8 703.1,423.7 659.9,461.7" fill="#5a5a5a" stroke="#1c1c1c" stroke-width="1.25" stroke-linejoin="round" />
<polygon points="618.0,420.1 661.2,382.1 701.7,395.8 658.5,433.8" fill="#6d6d6d" stroke="#1c1c1c" stroke-width="1.25" stroke-linejoin="round" />
<polygon points="615.5,396.0 656.0,409.7 657.1,431.3 616.6,417.6" fill="#636363" stroke="#1c1c1c" stroke-width="1.25" stroke-linejoin="round" />
<polygon points="656.0,409.7 697.8,362.8 698.9,384.4 657.1,431.3" fill="#5a5a5a" stroke="#1c1c1c" stroke-width="1.25" stroke-linejoin="round" />
<polygon points="615.5,396.0 657.3,349.1 697.8,362.8 656.0,409.7" fill="#6d6d6d" stroke="#1c1c1c" stroke-width="1.25" stroke-linejoin="round" />
<polygon points="600.9,423.9 620.1,408.1 625.7,484.9 606.5,505.2" fill="#b9b9b9" stroke="#1c1c1c" stroke-width="1.25" stroke-linejoin="round" />
<polygon points="591.4,425.0 600.9,423.9 606.5,505.2 597.5,503.0" fill="#e2e2e2" stroke="#1c1c1c" stroke-width="1.25" stroke-linejoin="round" />
<polygon points="591.4,425.0 612.2,405.9 620.1,408.1 600.9,423.9" fill="#d6d6d6" stroke="#1c1c1c" stroke-width="1.25" stroke-linejoin="round" />
<ellipse cx="682.0" cy="348.5" rx="4.3" ry="6.5" fill="#3d63bd" stroke="#1c1c1c" stroke-width="1" transform="rotate(12 682.0 348.5)"/>
<polygon points="683.4,342.1 691.4,345.1 688.6,357.9 680.6,354.9" fill="#3d63bd" stroke="none"/>
<line x1="683.4" y1="342.1" x2="691.4" y2="345.1" stroke="#1c1c1c" stroke-width="1" />
<line x1="680.6" y1="354.9" x2="688.6" y2="357.9" stroke="#1c1c1c" stroke-width="1" />
<ellipse cx="690.0" cy="351.5" rx="4.3" ry="6.5" fill="#2f4f9f" stroke="#1c1c1c" stroke-width="1" transform="rotate(12 690.0 351.5)"/>
<ellipse cx="673.5" cy="351.5" rx="4.3" ry="6.5" fill="#3d63bd" stroke="#1c1c1c" stroke-width="1" transform="rotate(12 673.5 351.5)"/>
<polygon points="674.9,345.1 682.9,348.1 680.1,360.9 672.1,357.9" fill="#3d63bd" stroke="none"/>
<line x1="674.9" y1="345.1" x2="682.9" y2="348.1" stroke="#1c1c1c" stroke-width="1" />
<line x1="672.1" y1="357.9" x2="680.1" y2="360.9" stroke="#1c1c1c" stroke-width="1" />
<ellipse cx="681.5" cy="354.5" rx="4.3" ry="6.5" fill="#2f4f9f" stroke="#1c1c1c" stroke-width="1" transform="rotate(12 681.5 354.5)"/>
<ellipse cx="626.7" cy="358.6" rx="7.0" ry="11.0" fill="#3d63bd" stroke="#1c1c1c" stroke-width="1.25" transform="rotate(12 626.7 358.6)"/>
<polygon points="629.0,347.8 643.0,352.8 638.4,374.4 624.4,369.4" fill="#3d63bd" stroke="none"/>
<line x1="629.0" y1="347.8" x2="643.0" y2="352.8" stroke="#1c1c1c" stroke-width="1" />
<line x1="624.4" y1="369.4" x2="638.4" y2="374.4" stroke="#1c1c1c" stroke-width="1" />
<ellipse cx="640.7" cy="363.6" rx="7.0" ry="11.0" fill="#2f4f9f" stroke="#1c1c1c" stroke-width="1.25" transform="rotate(12 640.7 363.6)"/>
<ellipse cx="611.5" cy="374.5" rx="7.0" ry="11.0" fill="#3d63bd" stroke="#1c1c1c" stroke-width="1.25" transform="rotate(12 611.5 374.5)"/>
<polygon points="613.8,363.7 627.8,368.7 623.2,390.3 609.2,385.3" fill="#3d63bd" stroke="none"/>
<line x1="613.8" y1="363.7" x2="627.8" y2="368.7" stroke="#1c1c1c" stroke-width="1" />
<line x1="609.2" y1="385.3" x2="623.2" y2="390.3" stroke="#1c1c1c" stroke-width="1" />
<ellipse cx="625.5" cy="379.5" rx="7.0" ry="11.0" fill="#2f4f9f" stroke="#1c1c1c" stroke-width="1.25" transform="rotate(12 625.5 379.5)"/>
<ellipse cx="595.0" cy="389.3" rx="7.0" ry="11.0" fill="#3d63bd" stroke="#1c1c1c" stroke-width="1.25" transform="rotate(12 595.0 389.3)"/>
<polygon points="597.3,378.5 611.3,383.5 606.7,405.1 592.7,400.1" fill="#3d63bd" stroke="none"/>
<line x1="597.3" y1="378.5" x2="611.3" y2="383.5" stroke="#1c1c1c" stroke-width="1" />
<line x1="592.7" y1="400.1" x2="606.7" y2="405.1" stroke="#1c1c1c" stroke-width="1" />
<ellipse cx="609.0" cy="394.3" rx="7.0" ry="11.0" fill="#2f4f9f" stroke="#1c1c1c" stroke-width="1.25" transform="rotate(12 609.0 394.3)"/>
<polygon points="654.5,314.0 688.4,324.2 688.9,349.1 655.0,339.0" fill="#d99e00" stroke="#1c1c1c" stroke-width="1.25" stroke-linejoin="round" />
<polygon points="688.4,324.2 703.4,308.4 705.9,332.1 688.9,349.1" fill="#b98700" stroke="#1c1c1c" stroke-width="1.25" stroke-linejoin="round" />
<polygon points="654.5,314.0 670.3,296.9 703.4,308.4 688.4,324.2" fill="#e3a414" stroke="#1c1c1c" stroke-width="1.25" stroke-linejoin="round" />
<polygon points="633.4,338.4 659.0,345.1 659.6,363.7 634.5,357.0" fill="#d99e00" stroke="#1c1c1c" stroke-width="1.25" stroke-linejoin="round" />
<polygon points="659.0,345.1 670.9,332.1 671.5,353.6 659.6,363.7" fill="#b98700" stroke="#1c1c1c" stroke-width="1.25" stroke-linejoin="round" />
<polygon points="633.4,338.4 644.9,324.2 670.9,332.1 659.0,345.1" fill="#e3a414" stroke="#1c1c1c" stroke-width="1.25" stroke-linejoin="round" />
<polygon points="527.1,554.5 567.6,568.2 569.0,596.0 528.5,582.3" fill="#636363" stroke="#1c1c1c" stroke-width="1.25" stroke-linejoin="round" />
<polygon points="567.6,568.2 610.7,527.6 612.1,555.4 569.0,596.0" fill="#5a5a5a" stroke="#1c1c1c" stroke-width="1.25" stroke-linejoin="round" />
<polygon points="527.1,554.5 570.2,513.9 610.7,527.6 567.6,568.2" fill="#6d6d6d" stroke="#1c1c1c" stroke-width="1.25" stroke-linejoin="round" />
<polygon points="524.5,521.5 565.0,535.2 566.4,563.1 525.9,549.4" fill="#636363" stroke="#1c1c1c" stroke-width="1.25" stroke-linejoin="round" />
<polygon points="565.0,535.2 608.2,497.2 609.6,525.1 566.4,563.1" fill="#5a5a5a" stroke="#1c1c1c" stroke-width="1.25" stroke-linejoin="round" />
<polygon points="524.5,521.5 567.7,483.5 608.2,497.2 565.0,535.2" fill="#6d6d6d" stroke="#1c1c1c" stroke-width="1.25" stroke-linejoin="round" />
<polygon points="522.0,497.4 562.5,511.1 563.6,532.7 523.1,519.0" fill="#636363" stroke="#1c1c1c" stroke-width="1.25" stroke-linejoin="round" />
<polygon points="562.5,511.1 604.3,464.2 605.4,485.8 563.6,532.7" fill="#5a5a5a" stroke="#1c1c1c" stroke-width="1.25" stroke-linejoin="round" />
<polygon points="522.0,497.4 563.8,450.5 604.3,464.2 562.5,511.1" fill="#6d6d6d" stroke="#1c1c1c" stroke-width="1.25" stroke-linejoin="round" />
<polygon points="507.4,525.3 526.6,509.5 532.2,586.3 513.0,606.6" fill="#b9b9b9" stroke="#1c1c1c" stroke-width="1.25" stroke-linejoin="round" />
<polygon points="497.9,526.4 507.4,525.3 513.0,606.6 504.0,604.4" fill="#e2e2e2" stroke="#1c1c1c" stroke-width="1.25" stroke-linejoin="round" />
<polygon points="497.9,526.4 518.7,507.3 526.6,509.5 507.4,525.3" fill="#d6d6d6" stroke="#1c1c1c" stroke-width="1.25" stroke-linejoin="round" />
<ellipse cx="588.5" cy="449.9" rx="4.3" ry="6.5" fill="#3d63bd" stroke="#1c1c1c" stroke-width="1" transform="rotate(12 588.5 449.9)"/>
<polygon points="589.9,443.5 597.9,446.5 595.1,459.3 587.1,456.3" fill="#3d63bd" stroke="none"/>
<line x1="589.9" y1="443.5" x2="597.9" y2="446.5" stroke="#1c1c1c" stroke-width="1" />
<line x1="587.1" y1="456.3" x2="595.1" y2="459.3" stroke="#1c1c1c" stroke-width="1" />
<ellipse cx="596.5" cy="452.9" rx="4.3" ry="6.5" fill="#2f4f9f" stroke="#1c1c1c" stroke-width="1" transform="rotate(12 596.5 452.9)"/>
<ellipse cx="580.0" cy="452.9" rx="4.3" ry="6.5" fill="#3d63bd" stroke="#1c1c1c" stroke-width="1" transform="rotate(12 580.0 452.9)"/>
<polygon points="581.4,446.5 589.4,449.5 586.6,462.3 578.6,459.3" fill="#3d63bd" stroke="none"/>
<line x1="581.4" y1="446.5" x2="589.4" y2="449.5" stroke="#1c1c1c" stroke-width="1" />
<line x1="578.6" y1="459.3" x2="586.6" y2="462.3" stroke="#1c1c1c" stroke-width="1" />
<ellipse cx="588.0" cy="455.9" rx="4.3" ry="6.5" fill="#2f4f9f" stroke="#1c1c1c" stroke-width="1" transform="rotate(12 588.0 455.9)"/>
<ellipse cx="533.2" cy="460.0" rx="7.0" ry="11.0" fill="#3d63bd" stroke="#1c1c1c" stroke-width="1.25" transform="rotate(12 533.2 460.0)"/>
<polygon points="535.5,449.2 549.5,454.2 544.9,475.8 530.9,470.8" fill="#3d63bd" stroke="none"/>
<line x1="535.5" y1="449.2" x2="549.5" y2="454.2" stroke="#1c1c1c" stroke-width="1" />
<line x1="530.9" y1="470.8" x2="544.9" y2="475.8" stroke="#1c1c1c" stroke-width="1" />
<ellipse cx="547.2" cy="465.0" rx="7.0" ry="11.0" fill="#2f4f9f" stroke="#1c1c1c" stroke-width="1.25" transform="rotate(12 547.2 465.0)"/>
<ellipse cx="518.0" cy="475.9" rx="7.0" ry="11.0" fill="#3d63bd" stroke="#1c1c1c" stroke-width="1.25" transform="rotate(12 518.0 475.9)"/>
<polygon points="520.3,465.1 534.3,470.1 529.7,491.7 515.7,486.7" fill="#3d63bd" stroke="none"/>
<line x1="520.3" y1="465.1" x2="534.3" y2="470.1" stroke="#1c1c1c" stroke-width="1" />
<line x1="515.7" y1="486.7" x2="529.7" y2="491.7" stroke="#1c1c1c" stroke-width="1" />
<ellipse cx="532.0" cy="480.9" rx="7.0" ry="11.0" fill="#2f4f9f" stroke="#1c1c1c" stroke-width="1.25" transform="rotate(12 532.0 480.9)"/>
<ellipse cx="501.5" cy="490.7" rx="7.0" ry="11.0" fill="#3d63bd" stroke="#1c1c1c" stroke-width="1.25" transform="rotate(12 501.5 490.7)"/>
<polygon points="503.8,479.9 517.8,484.9 513.2,506.5 499.2,501.5" fill="#3d63bd" stroke="none"/>
<line x1="503.8" y1="479.9" x2="517.8" y2="484.9" stroke="#1c1c1c" stroke-width="1" />
<line x1="499.2" y1="501.5" x2="513.2" y2="506.5" stroke="#1c1c1c" stroke-width="1" />
<ellipse cx="515.5" cy="495.7" rx="7.0" ry="11.0" fill="#2f4f9f" stroke="#1c1c1c" stroke-width="1.25" transform="rotate(12 515.5 495.7)"/>
<polygon points="561.0,415.4 594.9,425.6 595.4,450.5 561.5,440.4" fill="#d99e00" stroke="#1c1c1c" stroke-width="1.25" stroke-linejoin="round" />
<polygon points="594.9,425.6 609.9,409.8 612.4,433.5 595.4,450.5" fill="#b98700" stroke="#1c1c1c" stroke-width="1.25" stroke-linejoin="round" />
<polygon points="561.0,415.4 576.8,398.3 609.9,409.8 594.9,425.6" fill="#e3a414" stroke="#1c1c1c" stroke-width="1.25" stroke-linejoin="round" />
<polygon points="539.9,439.8 565.5,446.5 566.1,465.1 541.0,458.4" fill="#d99e00" stroke="#1c1c1c" stroke-width="1.25" stroke-linejoin="round" />
<polygon points="565.5,446.5 577.4,433.5 578.0,455.0 566.1,465.1" fill="#b98700" stroke="#1c1c1c" stroke-width="1.25" stroke-linejoin="round" />
<polygon points="539.9,439.8 551.4,425.6 577.4,433.5 565.5,446.5" fill="#e3a414" stroke="#1c1c1c" stroke-width="1.25" stroke-linejoin="round" />
<polygon points="459.9,288.9 563.3,175.6 724.1,227.1 619.9,341.2" fill="none" stroke="#bfe3f7" stroke-width="1.6"/>
<path d="M38.6,415 L38.6,386.4 C39.5,372 50,362 64,361.9 L76,363.5 L531,513.3 C545,517 560,526 566,538 C571,549 575,560 576,575 L583.6,660.7 C584,675 580,684 570,688 C562,691 555,690.5 542.5,686.6" fill="none" stroke="#141414" stroke-width="1.2"/>
<path d="M55.5,415 L55.5,383 C57,372 65,366 76,364.4 L537.7,512.2 C552,517 562,524 566,532 C570,540 572,550 573,560 L579.6,648.8 C580,660 575,668 565,671 C560,672 555,672 550,671.5" fill="none" stroke="#141414" stroke-width="1.2"/>
<path d="M40.3,389.8 L395,0" fill="none" stroke="#141414" stroke-width="1.2"/>
<path d="M55.5,386.4 L410,0" fill="none" stroke="#141414" stroke-width="1.2"/>
<path d="M75.9,364.4 L413,0" fill="none" stroke="#141414" stroke-width="1.2"/>
<path d="M87.7,366 L423,0" fill="none" stroke="#141414" stroke-width="1.2"/>
<path d="M825,0 L955.2,42.8 C968,47 976,52 983,60 C995,73 1002,85 1003.8,98.8 L1012.4,192.6 C1012.4,200 1011,206 1009,208.4 C1005,214 1000,217 997.7,217.4 L975,218.5 L953,212" fill="none" stroke="#141414" stroke-width="1.2"/>
<path d="M830,17 L949.7,59.4 C960,63 966,68 971,74 C978,82 985,92 987.3,102.5 L995.5,196 C995.5,203 994,208 991,211.8 C987,215 981,217 975.1,217.4" fill="none" stroke="#141414" stroke-width="1.2"/>
<path d="M955.2,42.8 L531,513.3" fill="none" stroke="#141414" stroke-width="1.2"/>
<path d="M949.7,59.4 L537.7,512.2" fill="none" stroke="#141414" stroke-width="1.2"/>
<path d="M987.3,102.5 L572,545" fill="none" stroke="#141414" stroke-width="1.2"/>
<path d="M1003.8,98.8 L578,557" fill="none" stroke="#141414" stroke-width="1.2"/>
<polygon points="148.0,488.0 186.0,487.5 187.0,493.5 152.6,499.0" fill="#7a9793" stroke="#1c1c1c" stroke-width="1" stroke-linejoin="round" />
<polygon points="154.8,504.8 188.7,494.7 189.8,499.2 158.2,509.3" fill="#7a9793" stroke="#1c1c1c" stroke-width="1" stroke-linejoin="round" />
<polygon points="354.0,555.0 392.0,554.5 393.0,560.5 358.6,566.0" fill="#7a9793" stroke="#1c1c1c" stroke-width="1" stroke-linejoin="round" />
<polygon points="360.8,571.8 394.7,561.7 395.8,566.2 364.2,576.3" fill="#7a9793" stroke="#1c1c1c" stroke-width="1" stroke-linejoin="round" />
<ellipse cx="211" cy="488" rx="72" ry="69" fill="none" stroke="#1a1a1a" stroke-width="1" transform="rotate(-10 211 488)"/>
<ellipse cx="213" cy="491" rx="67" ry="63" fill="none" stroke="#1a1a1a" stroke-width="1" transform="rotate(-10 211 488)"/>
<ellipse cx="211" cy="487" rx="35" ry="29" fill="none" stroke="#1a1a1a" stroke-width="1" transform="rotate(-10 211 488)"/>
<ellipse cx="213" cy="493" rx="34" ry="28" fill="none" stroke="#1a1a1a" stroke-width="1" transform="rotate(-10 211 488)"/>
<ellipse cx="417.5" cy="556" rx="72" ry="69" fill="none" stroke="#1a1a1a" stroke-width="1" transform="rotate(-10 417.5 556)"/>
<ellipse cx="419.5" cy="559" rx="67" ry="63" fill="none" stroke="#1a1a1a" stroke-width="1" transform="rotate(-10 417.5 556)"/>
<ellipse cx="417.5" cy="555" rx="35" ry="29" fill="none" stroke="#1a1a1a" stroke-width="1" transform="rotate(-10 417.5 556)"/>
<ellipse cx="419.5" cy="561" rx="34" ry="28" fill="none" stroke="#1a1a1a" stroke-width="1" transform="rotate(-10 417.5 556)"/>
<g>
<polygon points="777.4,561.3 811,523.7 867.3,542.9 833.4,579.6" fill="#f6f6f6" stroke="#a0a0a0" stroke-width="1.7" stroke-linejoin="round"/>
<polygon points="777.4,561.3 833.4,579.6 838,630.1 781.1,612.7" fill="#f4f4f4" stroke="#a0a0a0" stroke-width="1.7" stroke-linejoin="round"/>
<polygon points="833.4,579.6 867.3,542.9 871.9,594.3 838,630.1" fill="#f1f1f1" stroke="#a0a0a0" stroke-width="1.7" stroke-linejoin="round"/>
<line x1="781" y1="612.7" x2="824" y2="563" stroke="#dcdcdc" stroke-width="1"/>
<text x="819.5" y="565" font-family="Liberation Sans" font-size="8" fill="#d0d0d0">Y</text>
<line x1="781" y1="612.7" x2="775.6" y2="554" stroke="#8088ee" stroke-width="1.8"/>
<line x1="781" y1="612.7" x2="846" y2="634.7" stroke="#f2a0a0" stroke-width="1.8"/>
<text x="769.5" y="552" font-family="Liberation Sans" font-size="12.5" fill="#8088ee">Z</text>
<text x="849" y="641.5" font-family="Liberation Sans" font-size="13" fill="#f2a0a0">X</text>
<text x="812" y="554.5" font-family="Liberation Sans" font-size="8.5" font-style="italic" fill="#a8a8a8" transform="rotate(20 822 551)">TOP</text>
<text x="792" y="598.5" font-family="Liberation Sans" font-size="8.8" font-weight="bold" fill="#b4b4b4" transform="rotate(17 806 595)">RIGHT</text>
<text x="842" y="589" font-family="Liberation Sans" font-size="8" fill="#b0b0b0" transform="rotate(80 852 586)">BACK</text>
</g></svg>
<div id="tb"></div>
<svg style="position:absolute;left:0;top:0" width="1024" height="60" viewBox="0 0 1024 60">
<rect x="676.5" y="4.5" width="39" height="38.5" rx="4" fill="rgba(250,250,250,0.7)" stroke="#d6e4ee" stroke-width="1"/>
<line x1="585.5" y1="6" x2="585.5" y2="42" stroke="#e2e2e2" stroke-width="1"/>
<line x1="810.5" y1="6" x2="810.5" y2="42" stroke="#e4e4e4" stroke-width="1"/>
<line x1="853.5" y1="6" x2="853.5" y2="42" stroke="#e4e4e4" stroke-width="1"/>
<!-- icon1 wire cube -->
<g transform="translate(560.6,24.3)" fill="none" stroke="#666" stroke-width="1.1">
<path d="M0,-7.5 L6.5,-3.8 L6.5,3.8 L0,7.5 L-6.5,3.8 L-6.5,-3.8 Z M-6.5,-3.8 L0,0 L6.5,-3.8 M0,0 L0,7.5"/>
<path d="M0,-7.5 v-1.2 M-6.5,3.8 l-1.2,0.7 M6.5,3.8 l1.2,0.7" stroke="#555"/>
<path d="M9,13 h2.5 v-2.5" stroke="#888" stroke-width="1"/>
</g>
<!-- icon2 shaded cube -->
<g transform="translate(606.3,24.3)" stroke="#777" stroke-width="1">
<path d="M0,-7 L6.5,-3.5 L0,0 L-6.5,-3.5 Z" fill="#e4e4e4"/>
<path d="M-6.5,-3.5 L0,0 L0,7.5 L-6.5,4 Z" fill="#8a8a8a"/>
<path d="M6.5,-3.5 L0,0 L0,7.5 L6.5,4 Z" fill="#c8c8c8"/>
<path d="M9,13 h2.5 v-2.5" fill="none" stroke="#888"/>
</g>
<!-- icon3 transparent blue cube -->
<g transform="translate(651.6,24.3)" stroke="#888" stroke-width="1">
<path d="M0,-7 L6.5,-3.5 L0,0 L-6.5,-3.5 Z" fill="#e8eef4"/>
<path d="M-6.5,-3.5 L0,0 L0,7.5 L-6.5,4 Z" fill="#9cc4ec"/>
<path d="M6.5,-3.5 L0,0 L0,7.5 L6.5,4 Z" fill="#b6d4f0"/>
<g fill="#888" stroke="none"><circle cx="0" cy="-7" r="1.2"/><circle cx="6.5" cy="-3.5" r="1.2"/><circle cx="6.5" cy="4" r="1.2"/><circle cx="0" cy="7.5" r="1.2"/><circle cx="-6.5" cy="4" r="1.2"/><circle cx="-6.5" cy="-3.5" r="1.2"/></g>
</g>
<!-- icon4 active -->
<g transform="translate(696,24.1)" stroke="#111" stroke-width="1.4" stroke-linejoin="round">
<path d="M0,-7.6 L6.4,-3.8 L0,0 L-6.4,-3.8 Z" fill="#fff"/>
<path d="M-6.4,-3.8 L0,0 L0,7.6 L-6.4,3.8 Z" fill="#1f9bd7"/>
<path d="M6.4,-3.8 L0,0 L0,7.6 L6.4,3.8 Z" fill="#fff"/>
<g fill="#111" stroke="none"><circle cx="0" cy="-7.6" r="1.4"/><circle cx="6.4" cy="-3.8" r="1.4"/><circle cx="6.4" cy="3.8" r="1.4"/><circle cx="0" cy="7.6" r="1.4"/><circle cx="-6.4" cy="3.8" r="1.4"/><circle cx="-6.4" cy="-3.8" r="1.4"/><circle cx="0" cy="0" r="1.2"/></g>
</g>
<!-- icon5 dotted cube -->
<g transform="translate(740.6,24.1)" fill="none" stroke="#7aa8e0" stroke-width="0.9" stroke-dasharray="1.5 1.5">
<path d="M0,-7.6 L6.4,-3.8 L6.4,3.8 L0,7.6 L-6.4,3.8 L-6.4,-3.8 Z M-6.4,-3.8 L0,0 L6.4,-3.8 M0,0 L0,7.6"/>
<g fill="#888" stroke="none"><circle cx="0" cy="-7.6" r="1.3"/><circle cx="6.4" cy="-3.8" r="1.3"/><circle cx="6.4" cy="3.8" r="1.3"/><circle cx="0" cy="7.6" r="1.3"/><circle cx="-6.4" cy="3.8" r="1.3"/><circle cx="-6.4" cy="-3.8" r="1.3"/><circle cx="0" cy="0" r="1.3"/></g>
</g>
<!-- icon6 cube with blue dots -->
<g transform="translate(785.3,24.4)" fill="none" stroke="#888" stroke-width="1">
<path d="M0,-7.6 L6.4,-3.8 L6.4,3.8 L0,7.6 L-6.4,3.8 L-6.4,-3.8 Z M-6.4,-3.8 L0,0 L6.4,-3.8 M0,0 L0,7.6"/>
<g fill="#8fbaf0" stroke="none"><circle cx="0" cy="-7.6" r="1.5"/><circle cx="6.4" cy="-3.8" r="1.5"/><circle cx="6.4" cy="3.8" r="1.5"/><circle cx="0" cy="7.6" r="1.5"/><circle cx="-6.4" cy="3.8" r="1.5"/><circle cx="-6.4" cy="-3.8" r="1.5"/><circle cx="0" cy="0" r="1.5"/></g>
</g>
<!-- icon7 box select -->
<rect x="824" y="17.8" width="12.5" height="9.5" fill="none" stroke="#222" stroke-width="1.3" stroke-dasharray="2.2 1.6"/>
<path d="M834.5,25 L834.5,33 L836.5,31.2 L838,34.2 L839.3,33.6 L837.9,30.6 L840.5,30.4 Z" fill="#111"/>
<!-- icon8 grid cube -->
<g transform="translate(874.2,23.5)" fill="none" stroke="#aaa" stroke-width="0.9">
<path d="M0,-7 L5.5,-4 L5.5,4 L0,7 L-5.5,4 L-5.5,-4 Z M-5.5,-4 L0,-1 L5.5,-4 M0,-1 L0,7 M-2.7,-2.5 L-2.7,5.5 M2.7,-2.5 L2.7,5.5 M-5.5,0 L0,3 L5.5,0"/>
</g>
</svg>

<div id="panel">
  <div class="title">Area average 3</div>
  <div class="btn-ok"><svg width="34" height="34" viewBox="0 0 34 34"><path d="M11 18 L15 22 L23 13" fill="none" stroke="#fff" stroke-width="1.6"/></svg></div>
  <div class="btn-x"><svg width="30" height="30" viewBox="0 0 30 30"><path d="M11 11 L19 19 M19 11 L11 19" stroke="#555" stroke-width="1.3"/></svg></div>
  <div class="hsep"></div>
  <div class="lbl" style="top:64px;letter-spacing:-0.2px">Surface data</div>
  <div class="val" style="top:64px;letter-spacing:-0.25px">Area average</div>
  <div class="uline" style="top:87px"></div>
  <svg class="chev" style="top:69px" viewBox="0 0 10 6"><path d="M0.5 0.5 L5 5 L9.5 0.5" fill="none" stroke="#777" stroke-width="1"/></svg>
  <div class="lbl" style="top:102px;letter-spacing:0.4px">Write control</div>
  <div class="val" style="top:101px">Time step</div>
  <div class="uline" style="top:124px"></div>
  <svg class="chev" style="top:106px" viewBox="0 0 10 6"><path d="M0.5 0.5 L5 5 L9.5 0.5" fill="none" stroke="#777" stroke-width="1"/></svg>
  <div class="lbl" style="top:139px;letter-spacing:0.35px">Write interval</div>
  <div class="val" style="top:139px">1</div>
  <div class="uline" style="top:162px"></div>
  <div class="af">Assigned Faces <span>(1)</span></div>
  <div class="clear">Clear list</div>
  <div class="item"><div class="t">0:14336@Main Board Large chip</div></div>
  <div class="xc"><svg width="14" height="14" viewBox="0 0 14 14"><path d="M4.5 4.5 L9.5 9.5 M9.5 4.5 L4.5 9.5" stroke="#555" stroke-width="1.2"/></svg></div>
  <div class="bsep"></div>
  <div class="trash"><svg width="31" height="31" viewBox="0 0 31 31"><path d="M10.5 11 h10 M13.5 11 v-1.5 h4 v1.5 M11.5 12 l0.8 9.5 h6.4 l0.8 -9.5 Z M14 13.5 v6.5 M15.5 13.5 v6.5 M17 13.5 v6.5" fill="none" stroke="#888" stroke-width="1"/></svg></div>
  <div class="hl" style="left:198px;top:49px;width:107px;height:43px"></div>
  <div class="hl" style="left:6px;top:169px;width:235px;height:76px"></div>
</div>

</body></html>
